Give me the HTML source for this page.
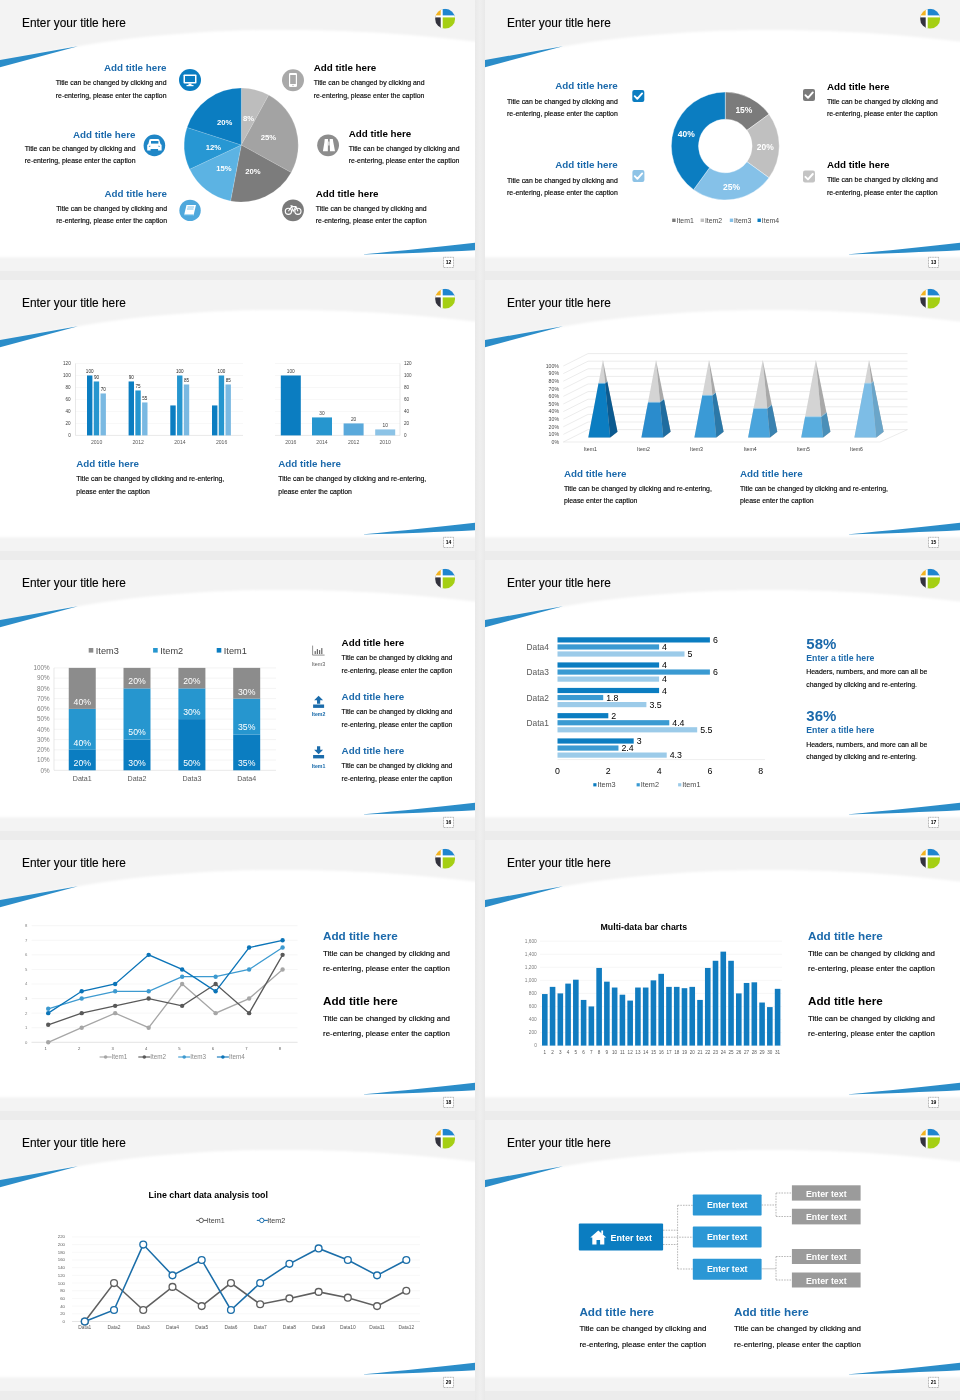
<!DOCTYPE html>
<html><head><meta charset="utf-8"><style>
html,body{margin:0;padding:0;background:#ececec;width:960px;height:1400px;overflow:hidden}
svg{display:block;will-change:transform}
text{font-family:"Liberation Sans", sans-serif}
</style></head><body>
<svg width="960" height="1400" viewBox="0 0 960 1400">
<defs><clipPath id="sc"><rect x="0" y="0" width="475" height="271"/></clipPath><filter id="soft" x="-5%" y="-5%" width="110%" height="110%"><feGaussianBlur stdDeviation="1.1"/></filter><linearGradient id="gv" x1="0" x2="1" y1="0" y2="0"><stop offset="0" stop-color="#e9e9e9"/><stop offset="0.5" stop-color="#efefef"/><stop offset="1" stop-color="#e9e9e9"/></linearGradient>
<linearGradient id="gh" x1="0" x2="0" y1="0" y2="1"><stop offset="0" stop-color="#e9e9e9"/><stop offset="0.5" stop-color="#eeeeee"/><stop offset="1" stop-color="#e9e9e9"/></linearGradient></defs>
<rect width="960" height="1400" fill="#ececec"/>
<rect x="475" y="0" width="10" height="1400" fill="url(#gv)"/>
<g transform="translate(0,0)"><g clip-path="url(#sc)"><rect x="0" y="0" width="475" height="271" fill="#f3f3f3"/><path d="M-5,64.5 L0,63 C185.7,14.1 391,30.8 475,41.6 L477,41.6 L477,257.3 L-5,257.3 Z" fill="#ffffff" filter="url(#soft)"/><path d="M0,60 L78,46.3 L0,67.2 Z" fill="#2b8dc9"/><path d="M364,254.3 C400,251 440,246.5 475,242.8 L475,250.3 C440,252 400,253.5 364,254.6 Z" fill="#2b8dc9"/><rect x="443.5" y="257.3" width="10" height="10.2" fill="#fff" stroke="#666" stroke-width="0.5" stroke-dasharray="1,0.6"/><text x="448.6" y="264.4" font-size="5" font-weight="bold" fill="#000" text-anchor="middle" >12</text><text x="22" y="27" font-size="11.9" font-weight="normal" fill="#000" text-anchor="start" stroke="#000" stroke-width="0.12">Enter your title here</text><g><clipPath id="lc12"><circle cx="445.1" cy="18.7" r="10"/></clipPath><g clip-path="url(#lc12)"><rect x="435.1" y="8.7" width="6.599999999999966" height="7.699999999999999" fill="#f2b320"/><rect x="441.7" y="8.7" width="13.400000000000034" height="7.699999999999999" fill="#1f86cf"/><rect x="435.1" y="16.4" width="6.599999999999966" height="12.3" fill="#33323d"/><rect x="441.7" y="16.4" width="13.400000000000034" height="12.3" fill="#a5cf14"/><rect x="440.7" y="8.7" width="2" height="20" fill="#fff"/><rect x="435.1" y="15.4" width="20" height="2" fill="#fff"/></g></g><path d="M241.25,145 L241.25,88.00 A57,57 0 0 1 268.71,95.05 Z" fill="#bdbdbd" stroke="#fff" stroke-width="0.15"/><path d="M241.25,145 L268.71,95.05 A57,57 0 0 1 291.20,172.46 Z" fill="#a3a3a3" stroke="#fff" stroke-width="0.15"/><path d="M241.25,145 L291.20,172.46 A57,57 0 0 1 230.57,200.99 Z" fill="#7c7c7c" stroke="#fff" stroke-width="0.15"/><path d="M241.25,145 L230.57,200.99 A57,57 0 0 1 189.67,169.27 Z" fill="#5cb3e3" stroke="#fff" stroke-width="0.15"/><path d="M241.25,145 L189.67,169.27 A57,57 0 0 1 187.04,127.39 Z" fill="#2797d3" stroke="#fff" stroke-width="0.15"/><path d="M241.25,145 L187.04,127.39 A57,57 0 0 1 241.25,88.00 Z" fill="#0b7dc1" stroke="#fff" stroke-width="0.15"/><text x="224.7" y="125.1" font-size="7.7" font-weight="bold" fill="#fff" text-anchor="middle" >20%</text><text x="213.5" y="150.20000000000002" font-size="7.7" font-weight="bold" fill="#fff" text-anchor="middle" >12%</text><text x="224" y="170.60000000000002" font-size="7.7" font-weight="bold" fill="#fff" text-anchor="middle" >15%</text><text x="253" y="174.4" font-size="7.7" font-weight="bold" fill="#fff" text-anchor="middle" >20%</text><text x="268.4" y="140.4" font-size="7.7" font-weight="bold" fill="#fff" text-anchor="middle" >25%</text><text x="248.5" y="121.0" font-size="7.7" font-weight="bold" fill="#fff" text-anchor="middle" >8%</text><text x="166.5" y="71" font-size="9.8" font-weight="bold" fill="#1b69ab" text-anchor="end" >Add title here</text><text x="166.5" y="85" font-size="6.9" font-weight="normal" fill="#000" text-anchor="end" stroke="#000" stroke-width="0.14">Title can be changed by clicking and</text><text x="166.5" y="97.5" font-size="6.9" font-weight="normal" fill="#000" text-anchor="end" stroke="#000" stroke-width="0.14">re-entering, please enter the caption</text><text x="135.5" y="137.5" font-size="9.8" font-weight="bold" fill="#1b69ab" text-anchor="end" >Add title here</text><text x="135.5" y="150.5" font-size="6.9" font-weight="normal" fill="#000" text-anchor="end" stroke="#000" stroke-width="0.14">Title can be changed by clicking and</text><text x="135.5" y="163" font-size="6.9" font-weight="normal" fill="#000" text-anchor="end" stroke="#000" stroke-width="0.14">re-entering, please enter the caption</text><text x="167" y="196.7" font-size="9.8" font-weight="bold" fill="#1b69ab" text-anchor="end" >Add title here</text><text x="167" y="210.5" font-size="6.9" font-weight="normal" fill="#000" text-anchor="end" stroke="#000" stroke-width="0.14">Title can be changed by clicking and</text><text x="167" y="223" font-size="6.9" font-weight="normal" fill="#000" text-anchor="end" stroke="#000" stroke-width="0.14">re-entering, please enter the caption</text><text x="313.7" y="70.8" font-size="9.8" font-weight="bold" fill="#000" text-anchor="start" >Add title here</text><text x="313.7" y="85" font-size="6.9" font-weight="normal" fill="#000" text-anchor="start" stroke="#000" stroke-width="0.14">Title can be changed by clicking and</text><text x="313.7" y="97.5" font-size="6.9" font-weight="normal" fill="#000" text-anchor="start" stroke="#000" stroke-width="0.14">re-entering, please enter the caption</text><text x="348.7" y="137" font-size="9.8" font-weight="bold" fill="#000" text-anchor="start" >Add title here</text><text x="348.7" y="150.5" font-size="6.9" font-weight="normal" fill="#000" text-anchor="start" stroke="#000" stroke-width="0.14">Title can be changed by clicking and</text><text x="348.7" y="163" font-size="6.9" font-weight="normal" fill="#000" text-anchor="start" stroke="#000" stroke-width="0.14">re-entering, please enter the caption</text><text x="315.8" y="196.5" font-size="9.8" font-weight="bold" fill="#000" text-anchor="start" >Add title here</text><text x="315.8" y="210.5" font-size="6.9" font-weight="normal" fill="#000" text-anchor="start" stroke="#000" stroke-width="0.14">Title can be changed by clicking and</text><text x="315.8" y="223" font-size="6.9" font-weight="normal" fill="#000" text-anchor="start" stroke="#000" stroke-width="0.14">re-entering, please enter the caption</text><circle cx="190" cy="80" r="11" fill="#0b7dc1"/><rect x="183.5" y="74.5" width="13" height="9" rx="0.8" fill="#fff"/><rect x="185" y="76" width="10" height="6" fill="#0b7dc1"/><rect x="188.5" y="83.5" width="3" height="1.5" fill="#fff"/><rect x="186.5" y="85" width="7" height="1.2" fill="#fff"/><circle cx="154.4" cy="145.4" r="10.8" fill="#1f86c6"/><path d="M149.5,139.6 Q150,139.1 151,139.1 L157.6,139.1 Q158.6,139.1 159.1,139.6 L160.5,144 L161.6,145 L161.6,150.4 L158.1,150.4 L158.1,149 L150.6,149 L150.6,150.4 L147.2,150.4 L147.2,145 L148.3,144 Z" fill="#fff"/><rect x="151" y="141" width="7.4" height="2.6" fill="#1f86c6"/><path d="M148.6,146.3 L150.2,145.5 L150.2,147.1 Z M160.2,146.3 L158.6,145.5 L158.6,147.1 Z" fill="#1f86c6"/><circle cx="190.06" cy="210.4" r="10.7" fill="#4fa8dc"/><path d="M184,215.5 L186.5,205 L196,205 L193.5,215.5 Z" fill="#fff"/><path d="M187.5,207 L194,207 M187,209 L193.5,209" stroke="#5cb3e3" stroke-width="0.8"/><rect x="184" y="214.5" width="9.5" height="1.5" fill="#5cb3e3"/><circle cx="293" cy="80.2" r="11" fill="#a9a9a9"/><rect x="289" y="73" width="8" height="14" rx="1.2" fill="#fff"/><rect x="290.2" y="75" width="5.6" height="9" fill="#a9a9a9"/><circle cx="293" cy="85.5" r="0.7" fill="#a9a9a9"/><circle cx="328.1" cy="145.3" r="10.9" fill="#8d8d8d"/><path d="M322.9,151.2 L324.4,142.2 L324.7,139 L328,139 L327.8,151.2 Z M329.7,139 L332.8,139 L333.3,142.2 L335,151.2 L330,151.2 Z" fill="#fff"/><rect x="327.8" y="141.5" width="2" height="4" fill="#d8d8d8"/><circle cx="293" cy="210.3" r="10.9" fill="#7a7a7a"/><circle cx="288.4" cy="211.3" r="3.1" fill="none" stroke="#fff" stroke-width="1.15"/><circle cx="297.9" cy="211.3" r="3.1" fill="none" stroke="#fff" stroke-width="1.15"/><path d="M288.4,211.3 L291.6,206.6 L296,206.6 L297.9,211.3 M291.6,206.6 L293.2,211.3 L296,206.6 M290.4,205.8 L292.6,205.8" fill="none" stroke="#fff" stroke-width="1.05"/></g></g><g transform="translate(485,0)"><g clip-path="url(#sc)"><rect x="0" y="0" width="475" height="271" fill="#f3f3f3"/><path d="M-5,64.5 L0,63 C185.7,14.1 391,30.8 475,41.6 L477,41.6 L477,257.3 L-5,257.3 Z" fill="#ffffff" filter="url(#soft)"/><path d="M0,60 L78,46.3 L0,67.2 Z" fill="#2b8dc9"/><path d="M364,254.3 C400,251 440,246.5 475,242.8 L475,250.3 C440,252 400,253.5 364,254.6 Z" fill="#2b8dc9"/><rect x="443.5" y="257.3" width="10" height="10.2" fill="#fff" stroke="#666" stroke-width="0.5" stroke-dasharray="1,0.6"/><text x="448.6" y="264.4" font-size="5" font-weight="bold" fill="#000" text-anchor="middle" >13</text><text x="22" y="27" font-size="11.9" font-weight="normal" fill="#000" text-anchor="start" stroke="#000" stroke-width="0.12">Enter your title here</text><g><clipPath id="lc13"><circle cx="445.1" cy="18.7" r="10"/></clipPath><g clip-path="url(#lc13)"><rect x="435.1" y="8.7" width="6.599999999999966" height="7.699999999999999" fill="#f2b320"/><rect x="441.7" y="8.7" width="13.400000000000034" height="7.699999999999999" fill="#1f86cf"/><rect x="435.1" y="16.4" width="6.599999999999966" height="12.3" fill="#33323d"/><rect x="441.7" y="16.4" width="13.400000000000034" height="12.3" fill="#a5cf14"/><rect x="440.7" y="8.7" width="2" height="20" fill="#fff"/><rect x="435.1" y="15.4" width="20" height="2" fill="#fff"/></g></g><path d="M240.30,92.00 A54,54 0 0 1 283.99,114.26 L261.98,130.25 A26.8,26.8 0 0 0 240.30,119.20 Z" fill="#7b7b7b" stroke="#fff" stroke-width="0.4"/><path d="M283.99,114.26 A54,54 0 0 1 283.99,177.74 L261.98,161.75 A26.8,26.8 0 0 0 261.98,130.25 Z" fill="#c0c0c0" stroke="#fff" stroke-width="0.4"/><path d="M283.99,177.74 A54,54 0 0 1 208.56,189.69 L224.55,167.68 A26.8,26.8 0 0 0 261.98,161.75 Z" fill="#85c1e8" stroke="#fff" stroke-width="0.4"/><path d="M208.56,189.69 A54,54 0 0 1 240.30,92.00 L240.30,119.20 A26.8,26.8 0 0 0 224.55,167.68 Z" fill="#0b7dc1" stroke="#fff" stroke-width="0.4"/><text x="258.9" y="113.1" font-size="8.5" font-weight="bold" fill="#fff" text-anchor="middle" >15%</text><text x="280.29999999999995" y="149.9" font-size="8.5" font-weight="bold" fill="#fff" text-anchor="middle" >20%</text><text x="246.5" y="190.29999999999998" font-size="8.5" font-weight="bold" fill="#fff" text-anchor="middle" >25%</text><text x="201.20000000000005" y="137.1" font-size="8.5" font-weight="bold" fill="#fff" text-anchor="middle" >40%</text><rect x="187.2" y="218.6" width="3.4" height="3.4" fill="#7b7b7b"/><text x="191.49999999999997" y="222.8" font-size="6.9" font-weight="normal" fill="#4a4a4a" text-anchor="start" >Item1</text><rect x="215.59999999999997" y="218.6" width="3.4" height="3.4" fill="#c0c0c0"/><text x="219.89999999999995" y="222.8" font-size="6.9" font-weight="normal" fill="#4a4a4a" text-anchor="start" >Item2</text><rect x="244.8" y="218.6" width="3.4" height="3.4" fill="#85c1e8"/><text x="249.1" y="222.8" font-size="6.9" font-weight="normal" fill="#4a4a4a" text-anchor="start" >Item3</text><rect x="272.50000000000006" y="218.6" width="3.4" height="3.4" fill="#0b7dc1"/><text x="276.80000000000007" y="222.8" font-size="6.9" font-weight="normal" fill="#4a4a4a" text-anchor="start" >Item4</text><text x="132.79999999999995" y="89.3" font-size="9.8" font-weight="bold" fill="#1b69ab" text-anchor="end" >Add title here</text><text x="132.79999999999995" y="103.5" font-size="6.9" font-weight="normal" fill="#000" text-anchor="end" stroke="#000" stroke-width="0.14">Title can be changed by clicking and</text><text x="132.79999999999995" y="116.2" font-size="6.9" font-weight="normal" fill="#000" text-anchor="end" stroke="#000" stroke-width="0.14">re-entering, please enter the caption</text><text x="132.79999999999995" y="168.2" font-size="9.8" font-weight="bold" fill="#1b69ab" text-anchor="end" >Add title here</text><text x="132.79999999999995" y="182.5" font-size="6.9" font-weight="normal" fill="#000" text-anchor="end" stroke="#000" stroke-width="0.14">Title can be changed by clicking and</text><text x="132.79999999999995" y="195" font-size="6.9" font-weight="normal" fill="#000" text-anchor="end" stroke="#000" stroke-width="0.14">re-entering, please enter the caption</text><text x="341.9" y="89.6" font-size="9.8" font-weight="bold" fill="#000" text-anchor="start" >Add title here</text><text x="341.9" y="103.5" font-size="6.9" font-weight="normal" fill="#000" text-anchor="start" stroke="#000" stroke-width="0.14">Title can be changed by clicking and</text><text x="341.9" y="116.2" font-size="6.9" font-weight="normal" fill="#000" text-anchor="start" stroke="#000" stroke-width="0.14">re-entering, please enter the caption</text><text x="341.9" y="168.4" font-size="9.8" font-weight="bold" fill="#000" text-anchor="start" >Add title here</text><text x="341.9" y="182.3" font-size="6.9" font-weight="normal" fill="#000" text-anchor="start" stroke="#000" stroke-width="0.14">Title can be changed by clicking and</text><text x="341.9" y="195" font-size="6.9" font-weight="normal" fill="#000" text-anchor="start" stroke="#000" stroke-width="0.14">re-entering, please enter the caption</text><rect x="147.29999999999995" y="90" width="12" height="12" rx="2" fill="#0b7dc1"/><path d="M149.69999999999996,96.2 L152.29999999999995,98.8 L157.09999999999997,93.4" fill="none" stroke="#fff" stroke-width="1.9" stroke-linecap="round" stroke-linejoin="round"/><rect x="147.39999999999998" y="170" width="12" height="12" rx="2" fill="#8ec3e6"/><path d="M149.79999999999998,176.2 L152.39999999999998,178.8 L157.2,173.4" fill="none" stroke="#fff" stroke-width="1.9" stroke-linecap="round" stroke-linejoin="round"/><rect x="318" y="89" width="12" height="12" rx="2" fill="#7b7b7b"/><path d="M320.4,95.2 L323,97.8 L327.8,92.4" fill="none" stroke="#fff" stroke-width="1.9" stroke-linecap="round" stroke-linejoin="round"/><rect x="318" y="170.6" width="12" height="12" rx="2" fill="#c4c4c4"/><path d="M320.4,176.79999999999998 L323,179.4 L327.8,174.0" fill="none" stroke="#fff" stroke-width="1.9" stroke-linecap="round" stroke-linejoin="round"/></g></g><g transform="translate(0,280)"><g clip-path="url(#sc)"><rect x="0" y="0" width="475" height="271" fill="#f3f3f3"/><path d="M-5,64.5 L0,63 C185.7,14.1 391,30.8 475,41.6 L477,41.6 L477,257.3 L-5,257.3 Z" fill="#ffffff" filter="url(#soft)"/><path d="M0,60 L78,46.3 L0,67.2 Z" fill="#2b8dc9"/><path d="M364,254.3 C400,251 440,246.5 475,242.8 L475,250.3 C440,252 400,253.5 364,254.6 Z" fill="#2b8dc9"/><rect x="443.5" y="257.3" width="10" height="10.2" fill="#fff" stroke="#666" stroke-width="0.5" stroke-dasharray="1,0.6"/><text x="448.6" y="264.4" font-size="5" font-weight="bold" fill="#000" text-anchor="middle" >14</text><text x="22" y="27" font-size="11.9" font-weight="normal" fill="#000" text-anchor="start" stroke="#000" stroke-width="0.12">Enter your title here</text><g><clipPath id="lc14"><circle cx="445.1" cy="18.7" r="10"/></clipPath><g clip-path="url(#lc14)"><rect x="435.1" y="8.7" width="6.599999999999966" height="7.699999999999999" fill="#f2b320"/><rect x="441.7" y="8.7" width="13.400000000000034" height="7.699999999999999" fill="#1f86cf"/><rect x="435.1" y="16.4" width="6.599999999999966" height="12.3" fill="#33323d"/><rect x="441.7" y="16.4" width="13.400000000000034" height="12.3" fill="#a5cf14"/><rect x="440.7" y="8.7" width="2" height="20" fill="#fff"/><rect x="435.1" y="15.4" width="20" height="2" fill="#fff"/></g></g><text x="70.7" y="156.99999999999997" font-size="4.6" font-weight="normal" fill="#404040" text-anchor="end" >0</text><line x1="75.5" y1="143.42" x2="243" y2="143.42" stroke="#efefef" stroke-width="0.5"/><text x="70.7" y="145.01666666666665" font-size="4.6" font-weight="normal" fill="#404040" text-anchor="end" >20</text><line x1="75.5" y1="131.43" x2="243" y2="131.43" stroke="#efefef" stroke-width="0.5"/><text x="70.7" y="133.0333333333333" font-size="4.6" font-weight="normal" fill="#404040" text-anchor="end" >40</text><line x1="75.5" y1="119.45" x2="243" y2="119.45" stroke="#efefef" stroke-width="0.5"/><text x="70.7" y="121.04999999999998" font-size="4.6" font-weight="normal" fill="#404040" text-anchor="end" >60</text><line x1="75.5" y1="107.47" x2="243" y2="107.47" stroke="#efefef" stroke-width="0.5"/><text x="70.7" y="109.06666666666665" font-size="4.6" font-weight="normal" fill="#404040" text-anchor="end" >80</text><line x1="75.5" y1="95.48" x2="243" y2="95.48" stroke="#efefef" stroke-width="0.5"/><text x="70.7" y="97.08333333333331" font-size="4.6" font-weight="normal" fill="#404040" text-anchor="end" >100</text><line x1="75.5" y1="83.50" x2="243" y2="83.50" stroke="#efefef" stroke-width="0.5"/><text x="70.7" y="85.1" font-size="4.6" font-weight="normal" fill="#404040" text-anchor="end" >120</text><line x1="75.5" y1="83.5" x2="75.5" y2="155.39999999999998" stroke="#d9d9d9" stroke-width="0.6"/><line x1="75.5" y1="155.39999999999998" x2="243" y2="155.39999999999998" stroke="#d9d9d9" stroke-width="0.6"/><rect x="87.00" y="95.48" width="5.4" height="59.92" fill="#0b7dc1"/><text x="89.7" y="93.48333333333332" font-size="4.6" font-weight="normal" fill="#262626" text-anchor="middle" >100</text><rect x="93.75" y="101.47" width="5.4" height="53.92" fill="#2696cf"/><text x="96.45" y="99.475" font-size="4.6" font-weight="normal" fill="#262626" text-anchor="middle" >90</text><rect x="100.50" y="113.46" width="5.4" height="41.94" fill="#7ab9e2"/><text x="103.2" y="111.45833333333331" font-size="4.6" font-weight="normal" fill="#262626" text-anchor="middle" >70</text><text x="96.6" y="163.59999999999997" font-size="5.1" font-weight="normal" fill="#595959" text-anchor="middle" >2010</text><rect x="128.60" y="101.47" width="5.4" height="53.92" fill="#0b7dc1"/><text x="131.29999999999998" y="99.475" font-size="4.6" font-weight="normal" fill="#262626" text-anchor="middle" >90</text><rect x="135.35" y="110.46" width="5.4" height="44.94" fill="#2696cf"/><text x="138.04999999999998" y="108.46249999999999" font-size="4.6" font-weight="normal" fill="#262626" text-anchor="middle" >75</text><rect x="142.10" y="122.45" width="5.4" height="32.95" fill="#7ab9e2"/><text x="144.79999999999998" y="120.44583333333333" font-size="4.6" font-weight="normal" fill="#262626" text-anchor="middle" >55</text><text x="138.2" y="163.59999999999997" font-size="5.1" font-weight="normal" fill="#595959" text-anchor="middle" >2012</text><rect x="170.30" y="125.44" width="5.4" height="29.96" fill="#0b7dc1"/><rect x="177.05" y="95.48" width="5.4" height="59.92" fill="#2696cf"/><text x="179.75" y="93.48333333333332" font-size="4.6" font-weight="normal" fill="#262626" text-anchor="middle" >100</text><rect x="183.80" y="104.47" width="5.4" height="50.93" fill="#7ab9e2"/><text x="186.5" y="102.47083333333333" font-size="4.6" font-weight="normal" fill="#262626" text-anchor="middle" >85</text><text x="179.9" y="163.59999999999997" font-size="5.1" font-weight="normal" fill="#595959" text-anchor="middle" >2014</text><rect x="212.00" y="125.44" width="5.4" height="29.96" fill="#0b7dc1"/><rect x="218.75" y="95.48" width="5.4" height="59.92" fill="#2696cf"/><text x="221.45" y="93.48333333333332" font-size="4.6" font-weight="normal" fill="#262626" text-anchor="middle" >100</text><rect x="225.50" y="104.47" width="5.4" height="50.93" fill="#7ab9e2"/><text x="228.2" y="102.47083333333333" font-size="4.6" font-weight="normal" fill="#262626" text-anchor="middle" >85</text><text x="221.6" y="163.59999999999997" font-size="5.1" font-weight="normal" fill="#595959" text-anchor="middle" >2016</text><text x="404" y="156.99999999999997" font-size="4.6" font-weight="normal" fill="#404040" text-anchor="start" >0</text><line x1="275" y1="143.42" x2="400" y2="143.42" stroke="#efefef" stroke-width="0.5"/><text x="404" y="145.01666666666665" font-size="4.6" font-weight="normal" fill="#404040" text-anchor="start" >20</text><line x1="275" y1="131.43" x2="400" y2="131.43" stroke="#efefef" stroke-width="0.5"/><text x="404" y="133.0333333333333" font-size="4.6" font-weight="normal" fill="#404040" text-anchor="start" >40</text><line x1="275" y1="119.45" x2="400" y2="119.45" stroke="#efefef" stroke-width="0.5"/><text x="404" y="121.04999999999998" font-size="4.6" font-weight="normal" fill="#404040" text-anchor="start" >60</text><line x1="275" y1="107.47" x2="400" y2="107.47" stroke="#efefef" stroke-width="0.5"/><text x="404" y="109.06666666666665" font-size="4.6" font-weight="normal" fill="#404040" text-anchor="start" >80</text><line x1="275" y1="95.48" x2="400" y2="95.48" stroke="#efefef" stroke-width="0.5"/><text x="404" y="97.08333333333331" font-size="4.6" font-weight="normal" fill="#404040" text-anchor="start" >100</text><line x1="275" y1="83.50" x2="400" y2="83.50" stroke="#efefef" stroke-width="0.5"/><text x="404" y="85.1" font-size="4.6" font-weight="normal" fill="#404040" text-anchor="start" >120</text><line x1="400" y1="83.5" x2="400" y2="155.39999999999998" stroke="#d9d9d9" stroke-width="0.6"/><line x1="275" y1="155.39999999999998" x2="400" y2="155.39999999999998" stroke="#d9d9d9" stroke-width="0.6"/><rect x="280.8" y="95.48" width="20" height="59.92" fill="#0b7dc1"/><text x="290.8" y="93.18333333333332" font-size="4.8" font-weight="normal" fill="#404040" text-anchor="middle" >100</text><text x="290.8" y="163.59999999999997" font-size="5.1" font-weight="normal" fill="#595959" text-anchor="middle" >2016</text><rect x="312" y="137.42" width="20" height="17.97" fill="#2696cf"/><text x="322" y="135.12499999999997" font-size="4.8" font-weight="normal" fill="#404040" text-anchor="middle" >30</text><text x="322" y="163.59999999999997" font-size="5.1" font-weight="normal" fill="#595959" text-anchor="middle" >2014</text><rect x="343.6" y="143.42" width="20" height="11.98" fill="#5aa9db"/><text x="353.6" y="141.11666666666665" font-size="4.8" font-weight="normal" fill="#404040" text-anchor="middle" >20</text><text x="353.6" y="163.59999999999997" font-size="5.1" font-weight="normal" fill="#595959" text-anchor="middle" >2012</text><rect x="375.2" y="149.41" width="20" height="5.99" fill="#8cc3e6"/><text x="385.2" y="147.1083333333333" font-size="4.8" font-weight="normal" fill="#404040" text-anchor="middle" >10</text><text x="385.2" y="163.59999999999997" font-size="5.1" font-weight="normal" fill="#595959" text-anchor="middle" >2010</text><text x="76.3" y="187" font-size="9.8" font-weight="bold" fill="#1b69ab" text-anchor="start" >Add title here</text><text x="76.3" y="201" font-size="6.9" font-weight="normal" fill="#000" text-anchor="start" stroke="#000" stroke-width="0.14">Title can be changed by clicking and re-entering,</text><text x="76.3" y="214" font-size="6.9" font-weight="normal" fill="#000" text-anchor="start" stroke="#000" stroke-width="0.14">please enter the caption</text><text x="278.3" y="187" font-size="9.8" font-weight="bold" fill="#1b69ab" text-anchor="start" >Add title here</text><text x="278.3" y="201" font-size="6.9" font-weight="normal" fill="#000" text-anchor="start" stroke="#000" stroke-width="0.14">Title can be changed by clicking and re-entering,</text><text x="278.3" y="214" font-size="6.9" font-weight="normal" fill="#000" text-anchor="start" stroke="#000" stroke-width="0.14">please enter the caption</text></g></g><g transform="translate(485,280)"><g clip-path="url(#sc)"><rect x="0" y="0" width="475" height="271" fill="#f3f3f3"/><path d="M-5,64.5 L0,63 C185.7,14.1 391,30.8 475,41.6 L477,41.6 L477,257.3 L-5,257.3 Z" fill="#ffffff" filter="url(#soft)"/><path d="M0,60 L78,46.3 L0,67.2 Z" fill="#2b8dc9"/><path d="M364,254.3 C400,251 440,246.5 475,242.8 L475,250.3 C440,252 400,253.5 364,254.6 Z" fill="#2b8dc9"/><rect x="443.5" y="257.3" width="10" height="10.2" fill="#fff" stroke="#666" stroke-width="0.5" stroke-dasharray="1,0.6"/><text x="448.6" y="264.4" font-size="5" font-weight="bold" fill="#000" text-anchor="middle" >15</text><text x="22" y="27" font-size="11.9" font-weight="normal" fill="#000" text-anchor="start" stroke="#000" stroke-width="0.12">Enter your title here</text><g><clipPath id="lc15"><circle cx="445.1" cy="18.7" r="10"/></clipPath><g clip-path="url(#lc15)"><rect x="435.1" y="8.7" width="6.599999999999966" height="7.699999999999999" fill="#f2b320"/><rect x="441.7" y="8.7" width="13.400000000000034" height="7.699999999999999" fill="#1f86cf"/><rect x="435.1" y="16.4" width="6.599999999999966" height="12.3" fill="#33323d"/><rect x="441.7" y="16.4" width="13.400000000000034" height="12.3" fill="#a5cf14"/><rect x="440.7" y="8.7" width="2" height="20" fill="#fff"/><rect x="435.1" y="15.4" width="20" height="2" fill="#fff"/></g></g><text x="74" y="163.8" font-size="5.2" font-weight="normal" fill="#4a4a4a" text-anchor="end" >0%</text><line x1="78.29999999999995" y1="162.00" x2="103" y2="149.60" stroke="#d9d9d9" stroke-width="0.5"/><line x1="103" y1="149.60" x2="422.5" y2="149.60" stroke="#d9d9d9" stroke-width="0.5"/><text x="74" y="156.20000000000002" font-size="5.2" font-weight="normal" fill="#4a4a4a" text-anchor="end" >10%</text><line x1="78.29999999999995" y1="154.40" x2="103" y2="142.00" stroke="#d9d9d9" stroke-width="0.5"/><line x1="103" y1="142.00" x2="422.5" y2="142.00" stroke="#d9d9d9" stroke-width="0.5"/><text x="74" y="148.60000000000002" font-size="5.2" font-weight="normal" fill="#4a4a4a" text-anchor="end" >20%</text><line x1="78.29999999999995" y1="146.80" x2="103" y2="134.40" stroke="#d9d9d9" stroke-width="0.5"/><line x1="103" y1="134.40" x2="422.5" y2="134.40" stroke="#d9d9d9" stroke-width="0.5"/><text x="74" y="141.0" font-size="5.2" font-weight="normal" fill="#4a4a4a" text-anchor="end" >30%</text><line x1="78.29999999999995" y1="139.20" x2="103" y2="126.80" stroke="#d9d9d9" stroke-width="0.5"/><line x1="103" y1="126.80" x2="422.5" y2="126.80" stroke="#d9d9d9" stroke-width="0.5"/><text x="74" y="133.4" font-size="5.2" font-weight="normal" fill="#4a4a4a" text-anchor="end" >40%</text><line x1="78.29999999999995" y1="131.60" x2="103" y2="119.20" stroke="#d9d9d9" stroke-width="0.5"/><line x1="103" y1="119.20" x2="422.5" y2="119.20" stroke="#d9d9d9" stroke-width="0.5"/><text x="74" y="125.8" font-size="5.2" font-weight="normal" fill="#4a4a4a" text-anchor="end" >50%</text><line x1="78.29999999999995" y1="124.00" x2="103" y2="111.60" stroke="#d9d9d9" stroke-width="0.5"/><line x1="103" y1="111.60" x2="422.5" y2="111.60" stroke="#d9d9d9" stroke-width="0.5"/><text x="74" y="118.2" font-size="5.2" font-weight="normal" fill="#4a4a4a" text-anchor="end" >60%</text><line x1="78.29999999999995" y1="116.40" x2="103" y2="104.00" stroke="#d9d9d9" stroke-width="0.5"/><line x1="103" y1="104.00" x2="422.5" y2="104.00" stroke="#d9d9d9" stroke-width="0.5"/><text x="74" y="110.60000000000001" font-size="5.2" font-weight="normal" fill="#4a4a4a" text-anchor="end" >70%</text><line x1="78.29999999999995" y1="108.80" x2="103" y2="96.40" stroke="#d9d9d9" stroke-width="0.5"/><line x1="103" y1="96.40" x2="422.5" y2="96.40" stroke="#d9d9d9" stroke-width="0.5"/><text x="74" y="103.0" font-size="5.2" font-weight="normal" fill="#4a4a4a" text-anchor="end" >80%</text><line x1="78.29999999999995" y1="101.20" x2="103" y2="88.80" stroke="#d9d9d9" stroke-width="0.5"/><line x1="103" y1="88.80" x2="422.5" y2="88.80" stroke="#d9d9d9" stroke-width="0.5"/><text x="74" y="95.4" font-size="5.2" font-weight="normal" fill="#4a4a4a" text-anchor="end" >90%</text><line x1="78.29999999999995" y1="93.60" x2="103" y2="81.20" stroke="#d9d9d9" stroke-width="0.5"/><line x1="103" y1="81.20" x2="422.5" y2="81.20" stroke="#d9d9d9" stroke-width="0.5"/><text x="74" y="87.8" font-size="5.2" font-weight="normal" fill="#4a4a4a" text-anchor="end" >100%</text><line x1="78.29999999999995" y1="86.00" x2="103" y2="73.60" stroke="#d9d9d9" stroke-width="0.5"/><line x1="103" y1="73.60" x2="422.5" y2="73.60" stroke="#d9d9d9" stroke-width="0.5"/><line x1="78.29999999999995" y1="162" x2="395" y2="162" stroke="#d9d9d9" stroke-width="0.5"/><line x1="395" y1="162" x2="422.5" y2="149.6" stroke="#d9d9d9" stroke-width="0.5"/><path d="M103.30,157.5 L125.20,157.5 L117.90,80 Z" fill="#d4d4d4"/><path d="M125.20,157.5 L132.50,151.7 L117.90,80 Z" fill="#a9a9a9"/><path d="M103.30,157.5 L125.20,157.5 L120.09,103.25 L113.52,103.25 Z" fill="#0b7dc1"/><path d="M125.20,157.5 L132.50,151.7 L122.28,101.51 L120.09,103.25 Z" fill="#0b5a90"/><path d="M113.52,103.25 L120.09,103.25 L122.28,101.51" fill="none" stroke="#a8d6f2" stroke-width="0.6"/><text x="105.39999999999998" y="170.55" font-size="5.2" font-weight="normal" fill="#404040" text-anchor="middle" >Item1</text><path d="M156.40,157.5 L178.30,157.5 L171.00,80 Z" fill="#d4d4d4"/><path d="M178.30,157.5 L185.60,151.7 L171.00,80 Z" fill="#a9a9a9"/><path d="M156.40,157.5 L178.30,157.5 L174.97,122.16 L163.06,122.16 Z" fill="#2a8ccd"/><path d="M178.30,157.5 L185.60,151.7 L178.94,119.00 L174.97,122.16 Z" fill="#1f6c9f"/><path d="M163.06,122.16 L174.97,122.16 L178.94,119.00" fill="none" stroke="#a8d6f2" stroke-width="0.6"/><text x="158.5" y="170.55" font-size="5.2" font-weight="normal" fill="#404040" text-anchor="middle" >Item2</text><path d="M209.40,157.5 L231.30,157.5 L224.00,80 Z" fill="#d4d4d4"/><path d="M231.30,157.5 L238.60,151.7 L224.00,80 Z" fill="#a9a9a9"/><path d="M209.40,157.5 L231.30,157.5 L227.33,115.34 L217.34,115.34 Z" fill="#3a9ad6"/><path d="M231.30,157.5 L238.60,151.7 L230.66,112.70 L227.33,115.34 Z" fill="#2b78a8"/><path d="M217.34,115.34 L227.33,115.34 L230.66,112.70" fill="none" stroke="#a8d6f2" stroke-width="0.6"/><text x="211.5" y="170.55" font-size="5.2" font-weight="normal" fill="#404040" text-anchor="middle" >Item3</text><path d="M263.10,157.5 L285.00,157.5 L277.70,80 Z" fill="#d4d4d4"/><path d="M285.00,157.5 L292.30,151.7 L277.70,80 Z" fill="#a9a9a9"/><path d="M263.10,157.5 L285.00,157.5 L282.26,128.44 L268.58,128.44 Z" fill="#4aa4dc"/><path d="M285.00,157.5 L292.30,151.7 L286.83,124.81 L282.26,128.44 Z" fill="#3a82b0"/><path d="M268.58,128.44 L282.26,128.44 L286.83,124.81" fill="none" stroke="#a8d6f2" stroke-width="0.6"/><text x="265.20000000000005" y="170.55" font-size="5.2" font-weight="normal" fill="#404040" text-anchor="middle" >Item4</text><path d="M316.20,157.5 L338.10,157.5 L330.80,80 Z" fill="#d4d4d4"/><path d="M338.10,157.5 L345.40,151.7 L330.80,80 Z" fill="#a9a9a9"/><path d="M316.20,157.5 L338.10,157.5 L336.15,136.81 L320.10,136.81 Z" fill="#58addf"/><path d="M338.10,157.5 L345.40,151.7 L341.50,132.56 L336.15,136.81 Z" fill="#4a8fb8"/><path d="M320.10,136.81 L336.15,136.81 L341.50,132.56" fill="none" stroke="#a8d6f2" stroke-width="0.6"/><text x="318.29999999999995" y="170.55" font-size="5.2" font-weight="normal" fill="#404040" text-anchor="middle" >Item5</text><path d="M369.40,157.5 L391.30,157.5 L384.00,80 Z" fill="#d4d4d4"/><path d="M391.30,157.5 L398.60,151.7 L384.00,80 Z" fill="#a9a9a9"/><path d="M369.40,157.5 L391.30,157.5 L386.19,103.25 L379.62,103.25 Z" fill="#7dbde6"/><path d="M391.30,157.5 L398.60,151.7 L388.38,101.51 L386.19,103.25 Z" fill="#6aa5c9"/><path d="M379.62,103.25 L386.19,103.25 L388.38,101.51" fill="none" stroke="#a8d6f2" stroke-width="0.6"/><text x="371.5" y="170.55" font-size="5.2" font-weight="normal" fill="#404040" text-anchor="middle" >Item6</text><text x="78.89999999999998" y="196.89999999999998" font-size="9.8" font-weight="bold" fill="#1b69ab" text-anchor="start" >Add title here</text><text x="78.89999999999998" y="210.5" font-size="6.9" font-weight="normal" fill="#000" text-anchor="start" stroke="#000" stroke-width="0.14">Title can be changed by clicking and re-entering,</text><text x="78.89999999999998" y="222.5" font-size="6.9" font-weight="normal" fill="#000" text-anchor="start" stroke="#000" stroke-width="0.14">please enter the caption</text><text x="255" y="196.89999999999998" font-size="9.8" font-weight="bold" fill="#1b69ab" text-anchor="start" >Add title here</text><text x="255" y="210.5" font-size="6.9" font-weight="normal" fill="#000" text-anchor="start" stroke="#000" stroke-width="0.14">Title can be changed by clicking and re-entering,</text><text x="255" y="222.5" font-size="6.9" font-weight="normal" fill="#000" text-anchor="start" stroke="#000" stroke-width="0.14">please enter the caption</text></g></g><g transform="translate(0,560)"><g clip-path="url(#sc)"><rect x="0" y="0" width="475" height="271" fill="#f3f3f3"/><path d="M-5,64.5 L0,63 C185.7,14.1 391,30.8 475,41.6 L477,41.6 L477,257.3 L-5,257.3 Z" fill="#ffffff" filter="url(#soft)"/><path d="M0,60 L78,46.3 L0,67.2 Z" fill="#2b8dc9"/><path d="M364,254.3 C400,251 440,246.5 475,242.8 L475,250.3 C440,252 400,253.5 364,254.6 Z" fill="#2b8dc9"/><rect x="443.5" y="257.3" width="10" height="10.2" fill="#fff" stroke="#666" stroke-width="0.5" stroke-dasharray="1,0.6"/><text x="448.6" y="264.4" font-size="5" font-weight="bold" fill="#000" text-anchor="middle" >16</text><text x="22" y="27" font-size="11.9" font-weight="normal" fill="#000" text-anchor="start" stroke="#000" stroke-width="0.12">Enter your title here</text><g><clipPath id="lc16"><circle cx="445.1" cy="18.7" r="10"/></clipPath><g clip-path="url(#lc16)"><rect x="435.1" y="8.7" width="6.599999999999966" height="7.699999999999999" fill="#f2b320"/><rect x="441.7" y="8.7" width="13.400000000000034" height="7.699999999999999" fill="#1f86cf"/><rect x="435.1" y="16.4" width="6.599999999999966" height="12.3" fill="#33323d"/><rect x="441.7" y="16.4" width="13.400000000000034" height="12.3" fill="#a5cf14"/><rect x="440.7" y="8.7" width="2" height="20" fill="#fff"/><rect x="435.1" y="15.4" width="20" height="2" fill="#fff"/></g></g><text x="49.5" y="212.49999999999994" font-size="6.3" font-weight="normal" fill="#7f7f7f" text-anchor="end" >0%</text><line x1="54" y1="200.06" x2="276" y2="200.06" stroke="#e8e8e8" stroke-width="0.5"/><text x="49.5" y="202.25999999999993" font-size="6.3" font-weight="normal" fill="#7f7f7f" text-anchor="end" >10%</text><line x1="54" y1="189.82" x2="276" y2="189.82" stroke="#e8e8e8" stroke-width="0.5"/><text x="49.5" y="192.01999999999995" font-size="6.3" font-weight="normal" fill="#7f7f7f" text-anchor="end" >20%</text><line x1="54" y1="179.58" x2="276" y2="179.58" stroke="#e8e8e8" stroke-width="0.5"/><text x="49.5" y="181.77999999999994" font-size="6.3" font-weight="normal" fill="#7f7f7f" text-anchor="end" >30%</text><line x1="54" y1="169.34" x2="276" y2="169.34" stroke="#e8e8e8" stroke-width="0.5"/><text x="49.5" y="171.53999999999996" font-size="6.3" font-weight="normal" fill="#7f7f7f" text-anchor="end" >40%</text><line x1="54" y1="159.10" x2="276" y2="159.10" stroke="#e8e8e8" stroke-width="0.5"/><text x="49.5" y="161.29999999999995" font-size="6.3" font-weight="normal" fill="#7f7f7f" text-anchor="end" >50%</text><line x1="54" y1="148.86" x2="276" y2="148.86" stroke="#e8e8e8" stroke-width="0.5"/><text x="49.5" y="151.05999999999995" font-size="6.3" font-weight="normal" fill="#7f7f7f" text-anchor="end" >60%</text><line x1="54" y1="138.62" x2="276" y2="138.62" stroke="#e8e8e8" stroke-width="0.5"/><text x="49.5" y="140.81999999999994" font-size="6.3" font-weight="normal" fill="#7f7f7f" text-anchor="end" >70%</text><line x1="54" y1="128.38" x2="276" y2="128.38" stroke="#e8e8e8" stroke-width="0.5"/><text x="49.5" y="130.57999999999996" font-size="6.3" font-weight="normal" fill="#7f7f7f" text-anchor="end" >80%</text><line x1="54" y1="118.14" x2="276" y2="118.14" stroke="#e8e8e8" stroke-width="0.5"/><text x="49.5" y="120.33999999999997" font-size="6.3" font-weight="normal" fill="#7f7f7f" text-anchor="end" >90%</text><line x1="54" y1="107.90" x2="276" y2="107.90" stroke="#e8e8e8" stroke-width="0.5"/><text x="49.5" y="110.09999999999998" font-size="6.3" font-weight="normal" fill="#7f7f7f" text-anchor="end" >100%</text><line x1="54" y1="107.89999999999998" x2="54" y2="210.29999999999995" stroke="#d9d9d9" stroke-width="0.6"/><line x1="54" y1="210.29999999999995" x2="276" y2="210.29999999999995" stroke="#d9d9d9" stroke-width="0.6"/><rect x="68.75" y="189.82" width="27" height="20.48" fill="#0b7dc1"/><text x="82.25" y="206.19999999999996" font-size="8.7" font-weight="normal" fill="#fff" text-anchor="middle" >20%</text><rect x="68.75" y="148.86" width="27" height="40.96" fill="#2696cf"/><text x="82.25" y="185.71999999999994" font-size="8.7" font-weight="normal" fill="#fff" text-anchor="middle" >40%</text><rect x="68.75" y="107.90" width="27" height="40.96" fill="#8c8c8c"/><text x="82.25" y="144.75999999999996" font-size="8.7" font-weight="normal" fill="#fff" text-anchor="middle" >40%</text><text x="82.25" y="220.89999999999998" font-size="7.1" font-weight="normal" fill="#595959" text-anchor="middle" >Data1</text><rect x="123.5" y="179.58" width="27" height="30.72" fill="#0b7dc1"/><text x="137.0" y="206.19999999999996" font-size="8.7" font-weight="normal" fill="#fff" text-anchor="middle" >30%</text><rect x="123.5" y="128.38" width="27" height="51.20" fill="#2696cf"/><text x="137.0" y="175.47999999999996" font-size="8.7" font-weight="normal" fill="#fff" text-anchor="middle" >50%</text><rect x="123.5" y="107.90" width="27" height="20.48" fill="#8c8c8c"/><text x="137.0" y="124.27999999999996" font-size="8.7" font-weight="normal" fill="#fff" text-anchor="middle" >20%</text><text x="137.0" y="220.89999999999998" font-size="7.1" font-weight="normal" fill="#595959" text-anchor="middle" >Data2</text><rect x="178.4" y="159.10" width="27" height="51.20" fill="#0b7dc1"/><text x="191.9" y="206.19999999999996" font-size="8.7" font-weight="normal" fill="#fff" text-anchor="middle" >50%</text><rect x="178.4" y="128.38" width="27" height="30.72" fill="#2696cf"/><text x="191.9" y="154.99999999999997" font-size="8.7" font-weight="normal" fill="#fff" text-anchor="middle" >30%</text><rect x="178.4" y="107.90" width="27" height="20.48" fill="#8c8c8c"/><text x="191.9" y="124.27999999999996" font-size="8.7" font-weight="normal" fill="#fff" text-anchor="middle" >20%</text><text x="191.9" y="220.89999999999998" font-size="7.1" font-weight="normal" fill="#595959" text-anchor="middle" >Data3</text><rect x="233.2" y="174.46" width="27" height="35.84" fill="#0b7dc1"/><text x="246.7" y="206.19999999999996" font-size="8.7" font-weight="normal" fill="#fff" text-anchor="middle" >35%</text><rect x="233.2" y="138.62" width="27" height="35.84" fill="#2696cf"/><text x="246.7" y="170.35999999999996" font-size="8.7" font-weight="normal" fill="#fff" text-anchor="middle" >35%</text><rect x="233.2" y="107.90" width="27" height="30.72" fill="#8c8c8c"/><text x="246.7" y="134.51999999999998" font-size="8.7" font-weight="normal" fill="#fff" text-anchor="middle" >30%</text><text x="246.7" y="220.89999999999998" font-size="7.1" font-weight="normal" fill="#595959" text-anchor="middle" >Data4</text><rect x="88.7" y="88.0" width="4.6" height="4.6" fill="#8c8c8c"/><text x="95.8" y="93.5" font-size="9.2" font-weight="normal" fill="#404040" text-anchor="start" >Item3</text><rect x="153.1" y="88.0" width="4.6" height="4.6" fill="#2696cf"/><text x="160.20000000000002" y="93.5" font-size="9.2" font-weight="normal" fill="#404040" text-anchor="start" >Item2</text><rect x="216.7" y="88.0" width="4.6" height="4.6" fill="#0b7dc1"/><text x="223.8" y="93.5" font-size="9.2" font-weight="normal" fill="#404040" text-anchor="start" >Item1</text><text x="341.6" y="85.60000000000002" font-size="9.8" font-weight="bold" fill="#000" text-anchor="start" >Add title here</text><text x="341.6" y="100" font-size="6.9" font-weight="normal" fill="#000" text-anchor="start" stroke="#000" stroke-width="0.14">Title can be changed by clicking and</text><text x="341.6" y="112.5" font-size="6.9" font-weight="normal" fill="#000" text-anchor="start" stroke="#000" stroke-width="0.14">re-entering, please enter the caption</text><text x="341.6" y="139.60000000000002" font-size="9.8" font-weight="bold" fill="#1b69ab" text-anchor="start" >Add title here</text><text x="341.6" y="154" font-size="6.9" font-weight="normal" fill="#000" text-anchor="start" stroke="#000" stroke-width="0.14">Title can be changed by clicking and</text><text x="341.6" y="166.5" font-size="6.9" font-weight="normal" fill="#000" text-anchor="start" stroke="#000" stroke-width="0.14">re-entering, please enter the caption</text><text x="341.6" y="193.60000000000002" font-size="9.8" font-weight="bold" fill="#1b69ab" text-anchor="start" >Add title here</text><text x="341.6" y="208" font-size="6.9" font-weight="normal" fill="#000" text-anchor="start" stroke="#000" stroke-width="0.14">Title can be changed by clicking and</text><text x="341.6" y="220.5" font-size="6.9" font-weight="normal" fill="#000" text-anchor="start" stroke="#000" stroke-width="0.14">re-entering, please enter the caption</text><path d="M312.6,85.60000000000002 L312.6,95.10000000000002 L324.6,95.10000000000002" fill="none" stroke="#666" stroke-width="0.7"/><rect x="314.6" y="91.10000000000002" width="1.2" height="3" fill="#666"/><rect x="316.8" y="89.10000000000002" width="1.2" height="5" fill="#666"/><rect x="319.0" y="90.10000000000002" width="1.2" height="4" fill="#666"/><rect x="321.20000000000005" y="88.10000000000002" width="1.2" height="6" fill="#666"/><text x="318.6" y="105.5" font-size="5.4" font-weight="normal" fill="#595959" text-anchor="middle" >Item3</text><path d="M318.6,135.70000000000005 L323.1,140.20000000000005 L320.20000000000005,140.20000000000005 L320.20000000000005,143.70000000000005 L317.0,143.70000000000005 L317.0,140.20000000000005 L314.1,140.20000000000005 Z" fill="#1b6cab"/><rect x="313.1" y="144.50000000000006" width="11" height="3.4" fill="#1b6cab"/><text x="318.6" y="156.39999999999998" font-size="5.2" font-weight="bold" fill="#1b6cab" text-anchor="middle" >Item2</text><path d="M318.6,194.20000000000005 L323.1,189.70000000000005 L320.20000000000005,189.70000000000005 L320.20000000000005,186.20000000000005 L317.0,186.20000000000005 L317.0,189.70000000000005 L314.1,189.70000000000005 Z" fill="#1b6cab"/><rect x="313.1" y="195.00000000000006" width="11" height="3.4" fill="#1b6cab"/><text x="318.6" y="207.79999999999995" font-size="5.2" font-weight="bold" fill="#1b6cab" text-anchor="middle" >Item1</text></g></g><g transform="translate(485,560)"><g clip-path="url(#sc)"><rect x="0" y="0" width="475" height="271" fill="#f3f3f3"/><path d="M-5,64.5 L0,63 C185.7,14.1 391,30.8 475,41.6 L477,41.6 L477,257.3 L-5,257.3 Z" fill="#ffffff" filter="url(#soft)"/><path d="M0,60 L78,46.3 L0,67.2 Z" fill="#2b8dc9"/><path d="M364,254.3 C400,251 440,246.5 475,242.8 L475,250.3 C440,252 400,253.5 364,254.6 Z" fill="#2b8dc9"/><rect x="443.5" y="257.3" width="10" height="10.2" fill="#fff" stroke="#666" stroke-width="0.5" stroke-dasharray="1,0.6"/><text x="448.6" y="264.4" font-size="5" font-weight="bold" fill="#000" text-anchor="middle" >17</text><text x="22" y="27" font-size="11.9" font-weight="normal" fill="#000" text-anchor="start" stroke="#000" stroke-width="0.12">Enter your title here</text><g><clipPath id="lc17"><circle cx="445.1" cy="18.7" r="10"/></clipPath><g clip-path="url(#lc17)"><rect x="435.1" y="8.7" width="6.599999999999966" height="7.699999999999999" fill="#f2b320"/><rect x="441.7" y="8.7" width="13.400000000000034" height="7.699999999999999" fill="#1f86cf"/><rect x="435.1" y="16.4" width="6.599999999999966" height="12.3" fill="#33323d"/><rect x="441.7" y="16.4" width="13.400000000000034" height="12.3" fill="#a5cf14"/><rect x="440.7" y="8.7" width="2" height="20" fill="#fff"/><rect x="435.1" y="15.4" width="20" height="2" fill="#fff"/></g></g><line x1="72.5" y1="199.60000000000002" x2="280" y2="199.60000000000002" stroke="#e3e3e3" stroke-width="0.6"/><text x="72.5" y="213.79999999999995" font-size="8.8" font-weight="normal" fill="#000" text-anchor="middle" >0</text><text x="123.30000000000001" y="213.79999999999995" font-size="8.8" font-weight="normal" fill="#000" text-anchor="middle" >2</text><text x="174.10000000000002" y="213.79999999999995" font-size="8.8" font-weight="normal" fill="#000" text-anchor="middle" >4</text><text x="224.90000000000003" y="213.79999999999995" font-size="8.8" font-weight="normal" fill="#000" text-anchor="middle" >6</text><text x="275.70000000000005" y="213.79999999999995" font-size="8.8" font-weight="normal" fill="#000" text-anchor="middle" >8</text><rect x="72.5" y="77.30" width="152.40" height="5.2" fill="#0b7dc1"/><text x="227.90000000000003" y="83.09999999999998" font-size="8.8" font-weight="normal" fill="#000" text-anchor="start" >6</text><rect x="72.5" y="84.35" width="101.60" height="5.2" fill="#3a9ad2"/><text x="177.10000000000002" y="90.14999999999993" font-size="8.8" font-weight="normal" fill="#000" text-anchor="start" >4</text><rect x="72.5" y="91.40" width="127.00" height="5.2" fill="#9ccbe9"/><text x="202.50000000000003" y="97.2" font-size="8.8" font-weight="normal" fill="#000" text-anchor="start" >5</text><rect x="72.5" y="102.40" width="101.60" height="5.2" fill="#0b7dc1"/><text x="177.10000000000002" y="108.2" font-size="8.8" font-weight="normal" fill="#000" text-anchor="start" >4</text><rect x="72.5" y="109.45" width="152.40" height="5.2" fill="#3a9ad2"/><text x="227.90000000000003" y="115.24999999999996" font-size="8.8" font-weight="normal" fill="#000" text-anchor="start" >6</text><rect x="72.5" y="116.50" width="101.60" height="5.2" fill="#9ccbe9"/><text x="177.10000000000002" y="122.30000000000003" font-size="8.8" font-weight="normal" fill="#000" text-anchor="start" >4</text><rect x="72.5" y="127.90" width="101.60" height="5.2" fill="#0b7dc1"/><text x="177.10000000000002" y="133.7" font-size="8.8" font-weight="normal" fill="#000" text-anchor="start" >4</text><rect x="72.5" y="134.95" width="45.72" height="5.2" fill="#3a9ad2"/><text x="121.22000000000001" y="140.74999999999994" font-size="8.8" font-weight="normal" fill="#000" text-anchor="start" >1.8</text><rect x="72.5" y="142.00" width="88.90" height="5.2" fill="#9ccbe9"/><text x="164.40000000000003" y="147.8" font-size="8.8" font-weight="normal" fill="#000" text-anchor="start" >3.5</text><rect x="72.5" y="153.10" width="50.80" height="5.2" fill="#0b7dc1"/><text x="126.30000000000001" y="158.90000000000003" font-size="8.8" font-weight="normal" fill="#000" text-anchor="start" >2</text><rect x="72.5" y="160.15" width="111.76" height="5.2" fill="#3a9ad2"/><text x="187.26000000000005" y="165.95" font-size="8.8" font-weight="normal" fill="#000" text-anchor="start" >4.4</text><rect x="72.5" y="167.20" width="139.70" height="5.2" fill="#9ccbe9"/><text x="215.20000000000005" y="173.00000000000006" font-size="8.8" font-weight="normal" fill="#000" text-anchor="start" >5.5</text><rect x="72.5" y="178.40" width="76.20" height="5.2" fill="#0b7dc1"/><text x="151.70000000000002" y="184.2" font-size="8.8" font-weight="normal" fill="#000" text-anchor="start" >3</text><rect x="72.5" y="185.45" width="60.96" height="5.2" fill="#3a9ad2"/><text x="136.46" y="191.24999999999994" font-size="8.8" font-weight="normal" fill="#000" text-anchor="start" >2.4</text><rect x="72.5" y="192.50" width="109.22" height="5.2" fill="#9ccbe9"/><text x="184.72000000000003" y="198.3" font-size="8.8" font-weight="normal" fill="#000" text-anchor="start" >4.3</text><text x="63.89999999999998" y="89.70000000000005" font-size="8.4" font-weight="normal" fill="#595959" text-anchor="end" >Data4</text><text x="63.89999999999998" y="115.39999999999998" font-size="8.4" font-weight="normal" fill="#595959" text-anchor="end" >Data3</text><text x="63.89999999999998" y="140.60000000000002" font-size="8.4" font-weight="normal" fill="#595959" text-anchor="end" >Data2</text><text x="63.89999999999998" y="165.5" font-size="8.4" font-weight="normal" fill="#595959" text-anchor="end" >Data1</text><rect x="108.29999999999995" y="223.19999999999993" width="3.2" height="3.2" fill="#0b7dc1"/><text x="112.39999999999998" y="227.19999999999993" font-size="7.3" font-weight="normal" fill="#4a4a4a" text-anchor="start" >Item3</text><rect x="151.60000000000002" y="223.19999999999993" width="3.2" height="3.2" fill="#3a9ad2"/><text x="155.70000000000005" y="227.19999999999993" font-size="7.3" font-weight="normal" fill="#4a4a4a" text-anchor="start" >Item2</text><rect x="193.10000000000002" y="223.19999999999993" width="3.2" height="3.2" fill="#9ccbe9"/><text x="197.20000000000005" y="227.19999999999993" font-size="7.3" font-weight="normal" fill="#4a4a4a" text-anchor="start" >Item1</text><text x="321.29999999999995" y="88.70000000000005" font-size="15" font-weight="bold" fill="#1b69ab" text-anchor="start" >58%</text><text x="321.29999999999995" y="100.79999999999995" font-size="8.7" font-weight="bold" fill="#1b69ab" text-anchor="start" >Enter a title here</text><text x="321.29999999999995" y="113.79999999999995" font-size="6.9" font-weight="normal" fill="#000" text-anchor="start" stroke="#000" stroke-width="0.14">Headers, numbers, and more can all be</text><text x="321.29999999999995" y="126.5" font-size="6.9" font-weight="normal" fill="#000" text-anchor="start" stroke="#000" stroke-width="0.14">changed by clicking and re-entering.</text><text x="321.29999999999995" y="161.29999999999995" font-size="15" font-weight="bold" fill="#1b69ab" text-anchor="start" >36%</text><text x="321.29999999999995" y="173.29999999999995" font-size="8.7" font-weight="bold" fill="#1b69ab" text-anchor="start" >Enter a title here</text><text x="321.29999999999995" y="186.70000000000005" font-size="6.9" font-weight="normal" fill="#000" text-anchor="start" stroke="#000" stroke-width="0.14">Headers, numbers, and more can all be</text><text x="321.29999999999995" y="199.20000000000005" font-size="6.9" font-weight="normal" fill="#000" text-anchor="start" stroke="#000" stroke-width="0.14">changed by clicking and re-entering.</text></g></g><g transform="translate(0,840)"><g clip-path="url(#sc)"><rect x="0" y="0" width="475" height="271" fill="#f3f3f3"/><path d="M-5,64.5 L0,63 C185.7,14.1 391,30.8 475,41.6 L477,41.6 L477,257.3 L-5,257.3 Z" fill="#ffffff" filter="url(#soft)"/><path d="M0,60 L78,46.3 L0,67.2 Z" fill="#2b8dc9"/><path d="M364,254.3 C400,251 440,246.5 475,242.8 L475,250.3 C440,252 400,253.5 364,254.6 Z" fill="#2b8dc9"/><rect x="443.5" y="257.3" width="10" height="10.2" fill="#fff" stroke="#666" stroke-width="0.5" stroke-dasharray="1,0.6"/><text x="448.6" y="264.4" font-size="5" font-weight="bold" fill="#000" text-anchor="middle" >18</text><text x="22" y="27" font-size="11.9" font-weight="normal" fill="#000" text-anchor="start" stroke="#000" stroke-width="0.12">Enter your title here</text><g><clipPath id="lc18"><circle cx="445.1" cy="18.7" r="10"/></clipPath><g clip-path="url(#lc18)"><rect x="435.1" y="8.7" width="6.599999999999966" height="7.699999999999999" fill="#f2b320"/><rect x="441.7" y="8.7" width="13.400000000000034" height="7.699999999999999" fill="#1f86cf"/><rect x="435.1" y="16.4" width="6.599999999999966" height="12.3" fill="#33323d"/><rect x="441.7" y="16.4" width="13.400000000000034" height="12.3" fill="#a5cf14"/><rect x="440.7" y="8.7" width="2" height="20" fill="#fff"/><rect x="435.1" y="15.4" width="20" height="2" fill="#fff"/></g></g><line x1="31.6" y1="202.30" x2="297.5" y2="202.30" stroke="#ededed" stroke-width="0.5"/><text x="26.2" y="203.69999999999996" font-size="4.2" font-weight="normal" fill="#7f7f7f" text-anchor="middle" >0</text><line x1="31.6" y1="187.72" x2="297.5" y2="187.72" stroke="#ededed" stroke-width="0.5"/><text x="26.2" y="189.12499999999997" font-size="4.2" font-weight="normal" fill="#7f7f7f" text-anchor="middle" >1</text><line x1="31.6" y1="173.15" x2="297.5" y2="173.15" stroke="#ededed" stroke-width="0.5"/><text x="26.2" y="174.54999999999998" font-size="4.2" font-weight="normal" fill="#7f7f7f" text-anchor="middle" >2</text><line x1="31.6" y1="158.57" x2="297.5" y2="158.57" stroke="#ededed" stroke-width="0.5"/><text x="26.2" y="159.975" font-size="4.2" font-weight="normal" fill="#7f7f7f" text-anchor="middle" >3</text><line x1="31.6" y1="144.00" x2="297.5" y2="144.00" stroke="#ededed" stroke-width="0.5"/><text x="26.2" y="145.4" font-size="4.2" font-weight="normal" fill="#7f7f7f" text-anchor="middle" >4</text><line x1="31.6" y1="129.43" x2="297.5" y2="129.43" stroke="#ededed" stroke-width="0.5"/><text x="26.2" y="130.82500000000002" font-size="4.2" font-weight="normal" fill="#7f7f7f" text-anchor="middle" >5</text><line x1="31.6" y1="114.85" x2="297.5" y2="114.85" stroke="#ededed" stroke-width="0.5"/><text x="26.2" y="116.25000000000003" font-size="4.2" font-weight="normal" fill="#7f7f7f" text-anchor="middle" >6</text><line x1="31.6" y1="100.28" x2="297.5" y2="100.28" stroke="#ededed" stroke-width="0.5"/><text x="26.2" y="101.67500000000004" font-size="4.2" font-weight="normal" fill="#7f7f7f" text-anchor="middle" >7</text><line x1="31.6" y1="85.70" x2="297.5" y2="85.70" stroke="#ededed" stroke-width="0.5"/><text x="26.2" y="87.10000000000005" font-size="4.2" font-weight="normal" fill="#7f7f7f" text-anchor="middle" >8</text><line x1="31.6" y1="202.29999999999995" x2="297.5" y2="202.29999999999995" stroke="#d9d9d9" stroke-width="0.6"/><text x="45.6" y="209.80000000000018" font-size="4.2" font-weight="normal" fill="#595959" text-anchor="middle" >1</text><text x="79.08571428571429" y="209.80000000000018" font-size="4.2" font-weight="normal" fill="#595959" text-anchor="middle" >2</text><text x="112.57142857142858" y="209.80000000000018" font-size="4.2" font-weight="normal" fill="#595959" text-anchor="middle" >3</text><text x="146.05714285714285" y="209.80000000000018" font-size="4.2" font-weight="normal" fill="#595959" text-anchor="middle" >4</text><text x="179.54285714285717" y="209.80000000000018" font-size="4.2" font-weight="normal" fill="#595959" text-anchor="middle" >5</text><text x="213.02857142857144" y="209.80000000000018" font-size="4.2" font-weight="normal" fill="#595959" text-anchor="middle" >6</text><text x="246.5142857142857" y="209.80000000000018" font-size="4.2" font-weight="normal" fill="#595959" text-anchor="middle" >7</text><text x="280.0" y="209.80000000000018" font-size="4.2" font-weight="normal" fill="#595959" text-anchor="middle" >8</text><polyline points="48.20,202.30 81.69,187.72 115.17,173.15 148.66,187.72 182.14,144.00 215.63,173.15 249.11,158.57 282.60,129.43" fill="none" stroke="#a6a6a6" stroke-width="1.3"/><circle cx="48.20" cy="202.30" r="2.2" fill="#a6a6a6"/><circle cx="81.69" cy="187.72" r="2.2" fill="#a6a6a6"/><circle cx="115.17" cy="173.15" r="2.2" fill="#a6a6a6"/><circle cx="148.66" cy="187.72" r="2.2" fill="#a6a6a6"/><circle cx="182.14" cy="144.00" r="2.2" fill="#a6a6a6"/><circle cx="215.63" cy="173.15" r="2.2" fill="#a6a6a6"/><circle cx="249.11" cy="158.57" r="2.2" fill="#a6a6a6"/><circle cx="282.60" cy="129.43" r="2.2" fill="#a6a6a6"/><polyline points="48.20,184.81 81.69,173.15 115.17,165.86 148.66,158.57 182.14,165.86 215.63,144.00 249.11,173.15 282.60,114.85" fill="none" stroke="#595959" stroke-width="1.3"/><circle cx="48.20" cy="184.81" r="2.2" fill="#595959"/><circle cx="81.69" cy="173.15" r="2.2" fill="#595959"/><circle cx="115.17" cy="165.86" r="2.2" fill="#595959"/><circle cx="148.66" cy="158.57" r="2.2" fill="#595959"/><circle cx="182.14" cy="165.86" r="2.2" fill="#595959"/><circle cx="215.63" cy="144.00" r="2.2" fill="#595959"/><circle cx="249.11" cy="173.15" r="2.2" fill="#595959"/><circle cx="282.60" cy="114.85" r="2.2" fill="#595959"/><polyline points="48.20,168.78 81.69,158.57 115.17,151.29 148.66,151.29 182.14,136.71 215.63,136.71 249.11,129.43 282.60,107.56" fill="none" stroke="#3d9ad0" stroke-width="1.3"/><circle cx="48.20" cy="168.78" r="2.2" fill="#3d9ad0"/><circle cx="81.69" cy="158.57" r="2.2" fill="#3d9ad0"/><circle cx="115.17" cy="151.29" r="2.2" fill="#3d9ad0"/><circle cx="148.66" cy="151.29" r="2.2" fill="#3d9ad0"/><circle cx="182.14" cy="136.71" r="2.2" fill="#3d9ad0"/><circle cx="215.63" cy="136.71" r="2.2" fill="#3d9ad0"/><circle cx="249.11" cy="129.43" r="2.2" fill="#3d9ad0"/><circle cx="282.60" cy="107.56" r="2.2" fill="#3d9ad0"/><polyline points="48.20,173.15 81.69,151.29 115.17,144.00 148.66,114.85 182.14,129.43 215.63,151.29 249.11,107.56 282.60,100.28" fill="none" stroke="#0b74b8" stroke-width="1.3"/><circle cx="48.20" cy="173.15" r="2.2" fill="#0b74b8"/><circle cx="81.69" cy="151.29" r="2.2" fill="#0b74b8"/><circle cx="115.17" cy="144.00" r="2.2" fill="#0b74b8"/><circle cx="148.66" cy="114.85" r="2.2" fill="#0b74b8"/><circle cx="182.14" cy="129.43" r="2.2" fill="#0b74b8"/><circle cx="215.63" cy="151.29" r="2.2" fill="#0b74b8"/><circle cx="249.11" cy="107.56" r="2.2" fill="#0b74b8"/><circle cx="282.60" cy="100.28" r="2.2" fill="#0b74b8"/><line x1="99.6" y1="217" x2="111.6" y2="217" stroke="#a6a6a6" stroke-width="1.1"/><circle cx="105.6" cy="217" r="1.8" fill="#a6a6a6"/><text x="111.6" y="219.2" font-size="6.3" font-weight="normal" fill="#8a8a8a" text-anchor="start" >Item1</text><line x1="138.3" y1="217" x2="150.3" y2="217" stroke="#595959" stroke-width="1.1"/><circle cx="144.3" cy="217" r="1.8" fill="#595959"/><text x="150.3" y="219.2" font-size="6.3" font-weight="normal" fill="#8a8a8a" text-anchor="start" >Item2</text><line x1="178.2" y1="217" x2="190.2" y2="217" stroke="#3d9ad0" stroke-width="1.1"/><circle cx="184.2" cy="217" r="1.8" fill="#3d9ad0"/><text x="190.2" y="219.2" font-size="6.3" font-weight="normal" fill="#8a8a8a" text-anchor="start" >Item3</text><line x1="216.9" y1="217" x2="228.9" y2="217" stroke="#0b74b8" stroke-width="1.1"/><circle cx="222.9" cy="217" r="1.8" fill="#0b74b8"/><text x="228.9" y="219.2" font-size="6.3" font-weight="normal" fill="#8a8a8a" text-anchor="start" >Item4</text><text x="323" y="100" font-size="11.7" font-weight="bold" fill="#1b69ab" text-anchor="start" >Add title here</text><text x="323" y="115.79999999999995" font-size="7.9" font-weight="normal" fill="#000" text-anchor="start" stroke="#000" stroke-width="0.14">Title can be changed by clicking and</text><text x="323" y="130.5" font-size="7.9" font-weight="normal" fill="#000" text-anchor="start" stroke="#000" stroke-width="0.14">re-entering, please enter the caption</text><text x="323" y="165" font-size="11.7" font-weight="bold" fill="#000" text-anchor="start" >Add title here</text><text x="323" y="180.79999999999995" font-size="7.9" font-weight="normal" fill="#000" text-anchor="start" stroke="#000" stroke-width="0.14">Title can be changed by clicking and</text><text x="323" y="195.5" font-size="7.9" font-weight="normal" fill="#000" text-anchor="start" stroke="#000" stroke-width="0.14">re-entering, please enter the caption</text></g></g><g transform="translate(485,840)"><g clip-path="url(#sc)"><rect x="0" y="0" width="475" height="271" fill="#f3f3f3"/><path d="M-5,64.5 L0,63 C185.7,14.1 391,30.8 475,41.6 L477,41.6 L477,257.3 L-5,257.3 Z" fill="#ffffff" filter="url(#soft)"/><path d="M0,60 L78,46.3 L0,67.2 Z" fill="#2b8dc9"/><path d="M364,254.3 C400,251 440,246.5 475,242.8 L475,250.3 C440,252 400,253.5 364,254.6 Z" fill="#2b8dc9"/><rect x="443.5" y="257.3" width="10" height="10.2" fill="#fff" stroke="#666" stroke-width="0.5" stroke-dasharray="1,0.6"/><text x="448.6" y="264.4" font-size="5" font-weight="bold" fill="#000" text-anchor="middle" >19</text><text x="22" y="27" font-size="11.9" font-weight="normal" fill="#000" text-anchor="start" stroke="#000" stroke-width="0.12">Enter your title here</text><g><clipPath id="lc19"><circle cx="445.1" cy="18.7" r="10"/></clipPath><g clip-path="url(#lc19)"><rect x="435.1" y="8.7" width="6.599999999999966" height="7.699999999999999" fill="#f2b320"/><rect x="441.7" y="8.7" width="13.400000000000034" height="7.699999999999999" fill="#1f86cf"/><rect x="435.1" y="16.4" width="6.599999999999966" height="12.3" fill="#33323d"/><rect x="441.7" y="16.4" width="13.400000000000034" height="12.3" fill="#a5cf14"/><rect x="440.7" y="8.7" width="2" height="20" fill="#fff"/><rect x="435.1" y="15.4" width="20" height="2" fill="#fff"/></g></g><line x1="55" y1="205.60" x2="297" y2="205.60" stroke="#ededed" stroke-width="0.5"/><text x="51.799999999999955" y="207.1999999999999" font-size="4.8" font-weight="normal" fill="#7f7f7f" text-anchor="end" >0</text><line x1="55" y1="192.55" x2="297" y2="192.55" stroke="#ededed" stroke-width="0.5"/><text x="51.799999999999955" y="194.14999999999992" font-size="4.8" font-weight="normal" fill="#7f7f7f" text-anchor="end" >200</text><line x1="55" y1="179.50" x2="297" y2="179.50" stroke="#ededed" stroke-width="0.5"/><text x="51.799999999999955" y="181.09999999999994" font-size="4.8" font-weight="normal" fill="#7f7f7f" text-anchor="end" >400</text><line x1="55" y1="166.45" x2="297" y2="166.45" stroke="#ededed" stroke-width="0.5"/><text x="51.799999999999955" y="168.04999999999995" font-size="4.8" font-weight="normal" fill="#7f7f7f" text-anchor="end" >600</text><line x1="55" y1="153.40" x2="297" y2="153.40" stroke="#ededed" stroke-width="0.5"/><text x="51.799999999999955" y="154.99999999999997" font-size="4.8" font-weight="normal" fill="#7f7f7f" text-anchor="end" >800</text><line x1="55" y1="140.35" x2="297" y2="140.35" stroke="#ededed" stroke-width="0.5"/><text x="51.799999999999955" y="141.95" font-size="4.8" font-weight="normal" fill="#7f7f7f" text-anchor="end" >1,000</text><line x1="55" y1="127.30" x2="297" y2="127.30" stroke="#ededed" stroke-width="0.5"/><text x="51.799999999999955" y="128.9" font-size="4.8" font-weight="normal" fill="#7f7f7f" text-anchor="end" >1,200</text><line x1="55" y1="114.25" x2="297" y2="114.25" stroke="#ededed" stroke-width="0.5"/><text x="51.799999999999955" y="115.85000000000002" font-size="4.8" font-weight="normal" fill="#7f7f7f" text-anchor="end" >1,400</text><line x1="55" y1="101.20" x2="297" y2="101.20" stroke="#ededed" stroke-width="0.5"/><text x="51.799999999999955" y="102.80000000000004" font-size="4.8" font-weight="normal" fill="#7f7f7f" text-anchor="end" >1,600</text><rect x="57.00" y="154.05" width="5.6" height="51.55" fill="#117cc0"/><text x="59.8" y="213.89999999999986" font-size="4.6" font-weight="normal" fill="#595959" text-anchor="middle" >1</text><rect x="64.76" y="146.87" width="5.6" height="58.72" fill="#117cc0"/><text x="67.56" y="213.89999999999986" font-size="4.6" font-weight="normal" fill="#595959" text-anchor="middle" >2</text><rect x="72.52" y="153.40" width="5.6" height="52.20" fill="#117cc0"/><text x="75.32" y="213.89999999999986" font-size="4.6" font-weight="normal" fill="#595959" text-anchor="middle" >3</text><rect x="80.28" y="143.61" width="5.6" height="61.99" fill="#117cc0"/><text x="83.08" y="213.89999999999986" font-size="4.6" font-weight="normal" fill="#595959" text-anchor="middle" >4</text><rect x="88.04" y="139.70" width="5.6" height="65.90" fill="#117cc0"/><text x="90.83999999999999" y="213.89999999999986" font-size="4.6" font-weight="normal" fill="#595959" text-anchor="middle" >5</text><rect x="95.80" y="159.92" width="5.6" height="45.67" fill="#117cc0"/><text x="98.6" y="213.89999999999986" font-size="4.6" font-weight="normal" fill="#595959" text-anchor="middle" >6</text><rect x="103.56" y="166.45" width="5.6" height="39.15" fill="#117cc0"/><text x="106.36" y="213.89999999999986" font-size="4.6" font-weight="normal" fill="#595959" text-anchor="middle" >7</text><rect x="111.32" y="127.95" width="5.6" height="77.65" fill="#117cc0"/><text x="114.11999999999999" y="213.89999999999986" font-size="4.6" font-weight="normal" fill="#595959" text-anchor="middle" >8</text><rect x="119.08" y="141.65" width="5.6" height="63.94" fill="#117cc0"/><text x="121.87999999999998" y="213.89999999999986" font-size="4.6" font-weight="normal" fill="#595959" text-anchor="middle" >9</text><rect x="126.84" y="147.53" width="5.6" height="58.07" fill="#117cc0"/><text x="129.64" y="213.89999999999986" font-size="4.6" font-weight="normal" fill="#595959" text-anchor="middle" >10</text><rect x="134.60" y="154.70" width="5.6" height="50.89" fill="#117cc0"/><text x="137.4" y="213.89999999999986" font-size="4.6" font-weight="normal" fill="#595959" text-anchor="middle" >11</text><rect x="142.36" y="160.58" width="5.6" height="45.02" fill="#117cc0"/><text x="145.16" y="213.89999999999986" font-size="4.6" font-weight="normal" fill="#595959" text-anchor="middle" >12</text><rect x="150.12" y="147.53" width="5.6" height="58.07" fill="#117cc0"/><text x="152.92000000000002" y="213.89999999999986" font-size="4.6" font-weight="normal" fill="#595959" text-anchor="middle" >13</text><rect x="157.88" y="147.53" width="5.6" height="58.07" fill="#117cc0"/><text x="160.68" y="213.89999999999986" font-size="4.6" font-weight="normal" fill="#595959" text-anchor="middle" >14</text><rect x="165.64" y="140.35" width="5.6" height="65.25" fill="#117cc0"/><text x="168.44" y="213.89999999999986" font-size="4.6" font-weight="normal" fill="#595959" text-anchor="middle" >15</text><rect x="173.40" y="133.82" width="5.6" height="71.77" fill="#117cc0"/><text x="176.2" y="213.89999999999986" font-size="4.6" font-weight="normal" fill="#595959" text-anchor="middle" >16</text><rect x="181.16" y="146.87" width="5.6" height="58.72" fill="#117cc0"/><text x="183.95999999999998" y="213.89999999999986" font-size="4.6" font-weight="normal" fill="#595959" text-anchor="middle" >17</text><rect x="188.92" y="146.87" width="5.6" height="58.72" fill="#117cc0"/><text x="191.72" y="213.89999999999986" font-size="4.6" font-weight="normal" fill="#595959" text-anchor="middle" >18</text><rect x="196.68" y="148.18" width="5.6" height="57.42" fill="#117cc0"/><text x="199.48" y="213.89999999999986" font-size="4.6" font-weight="normal" fill="#595959" text-anchor="middle" >19</text><rect x="204.44" y="146.87" width="5.6" height="58.72" fill="#117cc0"/><text x="207.23999999999998" y="213.89999999999986" font-size="4.6" font-weight="normal" fill="#595959" text-anchor="middle" >20</text><rect x="212.20" y="159.92" width="5.6" height="45.67" fill="#117cc0"/><text x="215.0" y="213.89999999999986" font-size="4.6" font-weight="normal" fill="#595959" text-anchor="middle" >21</text><rect x="219.96" y="127.95" width="5.6" height="77.65" fill="#117cc0"/><text x="222.76" y="213.89999999999986" font-size="4.6" font-weight="normal" fill="#595959" text-anchor="middle" >22</text><rect x="227.72" y="120.78" width="5.6" height="84.82" fill="#117cc0"/><text x="230.51999999999998" y="213.89999999999986" font-size="4.6" font-weight="normal" fill="#595959" text-anchor="middle" >23</text><rect x="235.48" y="111.64" width="5.6" height="93.96" fill="#117cc0"/><text x="238.27999999999997" y="213.89999999999986" font-size="4.6" font-weight="normal" fill="#595959" text-anchor="middle" >24</text><rect x="243.24" y="120.78" width="5.6" height="84.82" fill="#117cc0"/><text x="246.04" y="213.89999999999986" font-size="4.6" font-weight="normal" fill="#595959" text-anchor="middle" >25</text><rect x="251.00" y="153.40" width="5.6" height="52.20" fill="#117cc0"/><text x="253.79999999999998" y="213.89999999999986" font-size="4.6" font-weight="normal" fill="#595959" text-anchor="middle" >26</text><rect x="258.76" y="142.96" width="5.6" height="62.64" fill="#117cc0"/><text x="261.56" y="213.89999999999986" font-size="4.6" font-weight="normal" fill="#595959" text-anchor="middle" >27</text><rect x="266.52" y="142.31" width="5.6" height="63.29" fill="#117cc0"/><text x="269.32" y="213.89999999999986" font-size="4.6" font-weight="normal" fill="#595959" text-anchor="middle" >28</text><rect x="274.28" y="162.53" width="5.6" height="43.06" fill="#117cc0"/><text x="277.08" y="213.89999999999986" font-size="4.6" font-weight="normal" fill="#595959" text-anchor="middle" >29</text><rect x="282.04" y="167.10" width="5.6" height="38.50" fill="#117cc0"/><text x="284.84" y="213.89999999999986" font-size="4.6" font-weight="normal" fill="#595959" text-anchor="middle" >30</text><rect x="289.80" y="148.83" width="5.6" height="56.77" fill="#117cc0"/><text x="292.59999999999997" y="213.89999999999986" font-size="4.6" font-weight="normal" fill="#595959" text-anchor="middle" >31</text><text x="158.79999999999995" y="89.70000000000005" font-size="8.8" font-weight="bold" fill="#000" text-anchor="middle" >Multi-data bar charts</text><text x="323" y="100" font-size="11.7" font-weight="bold" fill="#1b69ab" text-anchor="start" >Add title here</text><text x="323" y="115.79999999999995" font-size="7.9" font-weight="normal" fill="#000" text-anchor="start" stroke="#000" stroke-width="0.14">Title can be changed by clicking and</text><text x="323" y="130.5" font-size="7.9" font-weight="normal" fill="#000" text-anchor="start" stroke="#000" stroke-width="0.14">re-entering, please enter the caption</text><text x="323" y="165" font-size="11.7" font-weight="bold" fill="#000" text-anchor="start" >Add title here</text><text x="323" y="180.79999999999995" font-size="7.9" font-weight="normal" fill="#000" text-anchor="start" stroke="#000" stroke-width="0.14">Title can be changed by clicking and</text><text x="323" y="195.5" font-size="7.9" font-weight="normal" fill="#000" text-anchor="start" stroke="#000" stroke-width="0.14">re-entering, please enter the caption</text></g></g><g transform="translate(0,1120)"><g clip-path="url(#sc)"><rect x="0" y="0" width="475" height="271" fill="#f3f3f3"/><path d="M-5,64.5 L0,63 C185.7,14.1 391,30.8 475,41.6 L477,41.6 L477,257.3 L-5,257.3 Z" fill="#ffffff" filter="url(#soft)"/><path d="M0,60 L78,46.3 L0,67.2 Z" fill="#2b8dc9"/><path d="M364,254.3 C400,251 440,246.5 475,242.8 L475,250.3 C440,252 400,253.5 364,254.6 Z" fill="#2b8dc9"/><rect x="443.5" y="257.3" width="10" height="10.2" fill="#fff" stroke="#666" stroke-width="0.5" stroke-dasharray="1,0.6"/><text x="448.6" y="264.4" font-size="5" font-weight="bold" fill="#000" text-anchor="middle" >20</text><text x="22" y="27" font-size="11.9" font-weight="normal" fill="#000" text-anchor="start" stroke="#000" stroke-width="0.12">Enter your title here</text><g><clipPath id="lc20"><circle cx="445.1" cy="18.7" r="10"/></clipPath><g clip-path="url(#lc20)"><rect x="435.1" y="8.7" width="6.599999999999966" height="7.699999999999999" fill="#f2b320"/><rect x="441.7" y="8.7" width="13.400000000000034" height="7.699999999999999" fill="#1f86cf"/><rect x="435.1" y="16.4" width="6.599999999999966" height="12.3" fill="#33323d"/><rect x="441.7" y="16.4" width="13.400000000000034" height="12.3" fill="#a5cf14"/><rect x="440.7" y="8.7" width="2" height="20" fill="#fff"/><rect x="435.1" y="15.4" width="20" height="2" fill="#fff"/></g></g><line x1="72" y1="201.50" x2="420" y2="201.50" stroke="#f0f0f0" stroke-width="0.5"/><text x="65" y="203.0" font-size="4.3" font-weight="normal" fill="#595959" text-anchor="end" >0</text><line x1="72" y1="193.81" x2="420" y2="193.81" stroke="#f0f0f0" stroke-width="0.5"/><text x="65" y="195.3090909090909" font-size="4.3" font-weight="normal" fill="#595959" text-anchor="end" >20</text><line x1="72" y1="186.12" x2="420" y2="186.12" stroke="#f0f0f0" stroke-width="0.5"/><text x="65" y="187.61818181818182" font-size="4.3" font-weight="normal" fill="#595959" text-anchor="end" >40</text><line x1="72" y1="178.43" x2="420" y2="178.43" stroke="#f0f0f0" stroke-width="0.5"/><text x="65" y="179.92727272727274" font-size="4.3" font-weight="normal" fill="#595959" text-anchor="end" >60</text><line x1="72" y1="170.74" x2="420" y2="170.74" stroke="#f0f0f0" stroke-width="0.5"/><text x="65" y="172.23636363636368" font-size="4.3" font-weight="normal" fill="#595959" text-anchor="end" >80</text><line x1="72" y1="163.05" x2="420" y2="163.05" stroke="#f0f0f0" stroke-width="0.5"/><text x="65" y="164.5454545454546" font-size="4.3" font-weight="normal" fill="#595959" text-anchor="end" >100</text><line x1="72" y1="155.35" x2="420" y2="155.35" stroke="#f0f0f0" stroke-width="0.5"/><text x="65" y="156.8545454545455" font-size="4.3" font-weight="normal" fill="#595959" text-anchor="end" >120</text><line x1="72" y1="147.66" x2="420" y2="147.66" stroke="#f0f0f0" stroke-width="0.5"/><text x="65" y="149.1636363636364" font-size="4.3" font-weight="normal" fill="#595959" text-anchor="end" >140</text><line x1="72" y1="139.97" x2="420" y2="139.97" stroke="#f0f0f0" stroke-width="0.5"/><text x="65" y="141.47272727272735" font-size="4.3" font-weight="normal" fill="#595959" text-anchor="end" >160</text><line x1="72" y1="132.28" x2="420" y2="132.28" stroke="#f0f0f0" stroke-width="0.5"/><text x="65" y="133.78181818181827" font-size="4.3" font-weight="normal" fill="#595959" text-anchor="end" >180</text><line x1="72" y1="124.59" x2="420" y2="124.59" stroke="#f0f0f0" stroke-width="0.5"/><text x="65" y="126.09090909090918" font-size="4.3" font-weight="normal" fill="#595959" text-anchor="end" >200</text><line x1="72" y1="116.90" x2="420" y2="116.90" stroke="#f0f0f0" stroke-width="0.5"/><text x="65" y="118.40000000000009" font-size="4.3" font-weight="normal" fill="#595959" text-anchor="end" >220</text><line x1="72" y1="201.5" x2="420" y2="201.5" stroke="#d9d9d9" stroke-width="0.6"/><text x="84.8" y="209.0" font-size="4.9" font-weight="normal" fill="#595959" text-anchor="middle" >Data1</text><text x="114.02727272727273" y="209.0" font-size="4.9" font-weight="normal" fill="#595959" text-anchor="middle" >Data2</text><text x="143.25454545454545" y="209.0" font-size="4.9" font-weight="normal" fill="#595959" text-anchor="middle" >Data3</text><text x="172.4818181818182" y="209.0" font-size="4.9" font-weight="normal" fill="#595959" text-anchor="middle" >Data4</text><text x="201.7090909090909" y="209.0" font-size="4.9" font-weight="normal" fill="#595959" text-anchor="middle" >Data5</text><text x="230.93636363636364" y="209.0" font-size="4.9" font-weight="normal" fill="#595959" text-anchor="middle" >Data6</text><text x="260.1636363636364" y="209.0" font-size="4.9" font-weight="normal" fill="#595959" text-anchor="middle" >Data7</text><text x="289.3909090909091" y="209.0" font-size="4.9" font-weight="normal" fill="#595959" text-anchor="middle" >Data8</text><text x="318.6181818181818" y="209.0" font-size="4.9" font-weight="normal" fill="#595959" text-anchor="middle" >Data9</text><text x="347.8454545454546" y="209.0" font-size="4.9" font-weight="normal" fill="#595959" text-anchor="middle" >Data10</text><text x="377.07272727272726" y="209.0" font-size="4.9" font-weight="normal" fill="#595959" text-anchor="middle" >Data11</text><text x="406.3" y="209.0" font-size="4.9" font-weight="normal" fill="#595959" text-anchor="middle" >Data12</text><polyline points="84.80,201.50 114.03,163.05 143.25,189.96 172.48,166.89 201.71,186.12 230.94,163.05 260.16,184.20 289.39,178.43 318.62,171.89 347.85,177.66 377.07,186.12 406.30,170.74" fill="none" stroke="#5f5f5f" stroke-width="1.55"/><circle cx="84.80" cy="201.50" r="3.4" fill="#fff" stroke="#5f5f5f" stroke-width="1.35"/><circle cx="114.03" cy="163.05" r="3.4" fill="#fff" stroke="#5f5f5f" stroke-width="1.35"/><circle cx="143.25" cy="189.96" r="3.4" fill="#fff" stroke="#5f5f5f" stroke-width="1.35"/><circle cx="172.48" cy="166.89" r="3.4" fill="#fff" stroke="#5f5f5f" stroke-width="1.35"/><circle cx="201.71" cy="186.12" r="3.4" fill="#fff" stroke="#5f5f5f" stroke-width="1.35"/><circle cx="230.94" cy="163.05" r="3.4" fill="#fff" stroke="#5f5f5f" stroke-width="1.35"/><circle cx="260.16" cy="184.20" r="3.4" fill="#fff" stroke="#5f5f5f" stroke-width="1.35"/><circle cx="289.39" cy="178.43" r="3.4" fill="#fff" stroke="#5f5f5f" stroke-width="1.35"/><circle cx="318.62" cy="171.89" r="3.4" fill="#fff" stroke="#5f5f5f" stroke-width="1.35"/><circle cx="347.85" cy="177.66" r="3.4" fill="#fff" stroke="#5f5f5f" stroke-width="1.35"/><circle cx="377.07" cy="186.12" r="3.4" fill="#fff" stroke="#5f5f5f" stroke-width="1.35"/><circle cx="406.30" cy="170.74" r="3.4" fill="#fff" stroke="#5f5f5f" stroke-width="1.35"/><polyline points="84.80,201.50 114.03,189.96 143.25,124.59 172.48,155.35 201.71,139.97 230.94,189.96 260.16,163.05 289.39,143.82 318.62,128.44 347.85,139.97 377.07,155.35 406.30,139.97" fill="none" stroke="#1b6ea9" stroke-width="1.55"/><circle cx="84.80" cy="201.50" r="3.4" fill="#fff" stroke="#1b6ea9" stroke-width="1.35"/><circle cx="114.03" cy="189.96" r="3.4" fill="#fff" stroke="#1b6ea9" stroke-width="1.35"/><circle cx="143.25" cy="124.59" r="3.4" fill="#fff" stroke="#1b6ea9" stroke-width="1.35"/><circle cx="172.48" cy="155.35" r="3.4" fill="#fff" stroke="#1b6ea9" stroke-width="1.35"/><circle cx="201.71" cy="139.97" r="3.4" fill="#fff" stroke="#1b6ea9" stroke-width="1.35"/><circle cx="230.94" cy="189.96" r="3.4" fill="#fff" stroke="#1b6ea9" stroke-width="1.35"/><circle cx="260.16" cy="163.05" r="3.4" fill="#fff" stroke="#1b6ea9" stroke-width="1.35"/><circle cx="289.39" cy="143.82" r="3.4" fill="#fff" stroke="#1b6ea9" stroke-width="1.35"/><circle cx="318.62" cy="128.44" r="3.4" fill="#fff" stroke="#1b6ea9" stroke-width="1.35"/><circle cx="347.85" cy="139.97" r="3.4" fill="#fff" stroke="#1b6ea9" stroke-width="1.35"/><circle cx="377.07" cy="155.35" r="3.4" fill="#fff" stroke="#1b6ea9" stroke-width="1.35"/><circle cx="406.30" cy="139.97" r="3.4" fill="#fff" stroke="#1b6ea9" stroke-width="1.35"/><line x1="196.2" y1="100.40000000000009" x2="207.2" y2="100.40000000000009" stroke="#5e5e5e" stroke-width="1.1"/><circle cx="201.2" cy="100.40000000000009" r="2.2" fill="#fff" stroke="#5e5e5e" stroke-width="1"/><text x="206.7" y="102.90000000000009" font-size="7.2" font-weight="normal" fill="#404040" text-anchor="start" >Item1</text><line x1="256.8" y1="100.40000000000009" x2="267.8" y2="100.40000000000009" stroke="#1b6fae" stroke-width="1.1"/><circle cx="261.8" cy="100.40000000000009" r="2.2" fill="#fff" stroke="#1b6fae" stroke-width="1"/><text x="267.3" y="102.90000000000009" font-size="7.2" font-weight="normal" fill="#404040" text-anchor="start" >Item2</text><text x="208.3" y="78.09999999999991" font-size="8.9" font-weight="bold" fill="#000" text-anchor="middle" >Line chart data analysis tool</text></g></g><g transform="translate(485,1120)"><g clip-path="url(#sc)"><rect x="0" y="0" width="475" height="271" fill="#f3f3f3"/><path d="M-5,64.5 L0,63 C185.7,14.1 391,30.8 475,41.6 L477,41.6 L477,257.3 L-5,257.3 Z" fill="#ffffff" filter="url(#soft)"/><path d="M0,60 L78,46.3 L0,67.2 Z" fill="#2b8dc9"/><path d="M364,254.3 C400,251 440,246.5 475,242.8 L475,250.3 C440,252 400,253.5 364,254.6 Z" fill="#2b8dc9"/><rect x="443.5" y="257.3" width="10" height="10.2" fill="#fff" stroke="#666" stroke-width="0.5" stroke-dasharray="1,0.6"/><text x="448.6" y="264.4" font-size="5" font-weight="bold" fill="#000" text-anchor="middle" >21</text><text x="22" y="27" font-size="11.9" font-weight="normal" fill="#000" text-anchor="start" stroke="#000" stroke-width="0.12">Enter your title here</text><g><clipPath id="lc21"><circle cx="445.1" cy="18.7" r="10"/></clipPath><g clip-path="url(#lc21)"><rect x="435.1" y="8.7" width="6.599999999999966" height="7.699999999999999" fill="#f2b320"/><rect x="441.7" y="8.7" width="13.400000000000034" height="7.699999999999999" fill="#1f86cf"/><rect x="435.1" y="16.4" width="6.599999999999966" height="12.3" fill="#33323d"/><rect x="441.7" y="16.4" width="13.400000000000034" height="12.3" fill="#a5cf14"/><rect x="440.7" y="8.7" width="2" height="20" fill="#fff"/><rect x="435.1" y="15.4" width="20" height="2" fill="#fff"/></g></g><path d="M178,110.20000000000005 L192.60000000000002,110.20000000000005 M178,124.5 L192.60000000000002,124.5 M192.60000000000002,85.29999999999995 L192.60000000000002,149 M192.60000000000002,85.29999999999995 L208,85.29999999999995 M178,117.20000000000005 L208,117.20000000000005 M192.60000000000002,149 L208,149" fill="none" stroke="#9a9a9a" stroke-width="0.7" stroke-dasharray="1.6,1.1"/><path d="M276.6,85 L291,85 M291,73 L291,96.5 M291,73 L307,73 M291,96.5 L307,96.5" fill="none" stroke="#9a9a9a" stroke-width="0.7" stroke-dasharray="1.6,1.1"/><path d="M276.6,148.79999999999995 L291,148.79999999999995" fill="none" stroke="#a6a6a6" stroke-width="0.6"/><path d="M291,136.5 L291,160 M291,136.5 L307,136.5 M291,160 L307,160" fill="none" stroke="#9a9a9a" stroke-width="0.7" stroke-dasharray="1.6,1.1"/><rect x="93.79999999999995" y="103.40000000000009" width="84.3" height="27.2" rx="1" fill="#0b7dc1"/><rect x="116.29999999999995" y="110.5" width="1.8" height="4" fill="#fff"/><path d="M105.29999999999995,117.5 L113.29999999999995,110.5 L121.29999999999995,117.5 L119.29999999999995,117.5 L119.29999999999995,124.5 L115.09999999999995,124.5 L115.09999999999995,120 L111.49999999999996,120 L111.49999999999996,124.5 L107.29999999999995,124.5 L107.29999999999995,117.5 Z" fill="#fff"/><text x="146.20000000000005" y="121" font-size="9" font-weight="bold" fill="#fff" text-anchor="middle" >Enter text</text><rect x="207.79999999999995" y="74.40000000000009" width="68.8" height="21.199999999999818" rx="0.8" fill="#2b97d5"/><text x="242.20000000000005" y="88.20000000000005" font-size="8.8" font-weight="bold" fill="#fff" text-anchor="middle" >Enter text</text><rect x="207.79999999999995" y="106.59999999999991" width="68.8" height="20.90000000000009" rx="0.8" fill="#2b97d5"/><text x="242.20000000000005" y="120.25" font-size="8.8" font-weight="bold" fill="#fff" text-anchor="middle" >Enter text</text><rect x="207.79999999999995" y="138.75" width="68.8" height="20.950000000000045" rx="0.8" fill="#2b97d5"/><text x="242.20000000000005" y="152.42499999999995" font-size="8.8" font-weight="bold" fill="#fff" text-anchor="middle" >Enter text</text><rect x="306.9" y="65.29999999999995" width="68.7" height="15.299999999999955" fill="#9b9b9b"/><text x="341.29999999999995" y="76.74999999999977" font-size="8.8" font-weight="bold" fill="#fff" text-anchor="middle" >Enter text</text><rect x="306.9" y="88.75" width="68.7" height="15.650000000000091" fill="#9b9b9b"/><text x="341.29999999999995" y="100.375" font-size="8.8" font-weight="bold" fill="#fff" text-anchor="middle" >Enter text</text><rect x="306.9" y="129" width="68.7" height="15" fill="#9b9b9b"/><text x="341.29999999999995" y="140.29999999999995" font-size="8.8" font-weight="bold" fill="#fff" text-anchor="middle" >Enter text</text><rect x="306.9" y="152.5" width="68.7" height="15.0" fill="#9b9b9b"/><text x="341.29999999999995" y="163.79999999999995" font-size="8.8" font-weight="bold" fill="#fff" text-anchor="middle" >Enter text</text><text x="94.39999999999998" y="196" font-size="11.7" font-weight="bold" fill="#1b69ab" text-anchor="start" >Add title here</text><text x="94.39999999999998" y="211.29999999999995" font-size="7.9" font-weight="normal" fill="#000" text-anchor="start" stroke="#000" stroke-width="0.14">Title can be changed by clicking and</text><text x="94.39999999999998" y="226.5" font-size="7.9" font-weight="normal" fill="#000" text-anchor="start" stroke="#000" stroke-width="0.14">re-entering, please enter the caption</text><text x="249" y="196" font-size="11.7" font-weight="bold" fill="#1b69ab" text-anchor="start" >Add title here</text><text x="249" y="211.29999999999995" font-size="7.9" font-weight="normal" fill="#000" text-anchor="start" stroke="#000" stroke-width="0.14">Title can be changed by clicking and</text><text x="249" y="226.5" font-size="7.9" font-weight="normal" fill="#000" text-anchor="start" stroke="#000" stroke-width="0.14">re-entering, please enter the caption</text></g></g>
</svg></body></html>
